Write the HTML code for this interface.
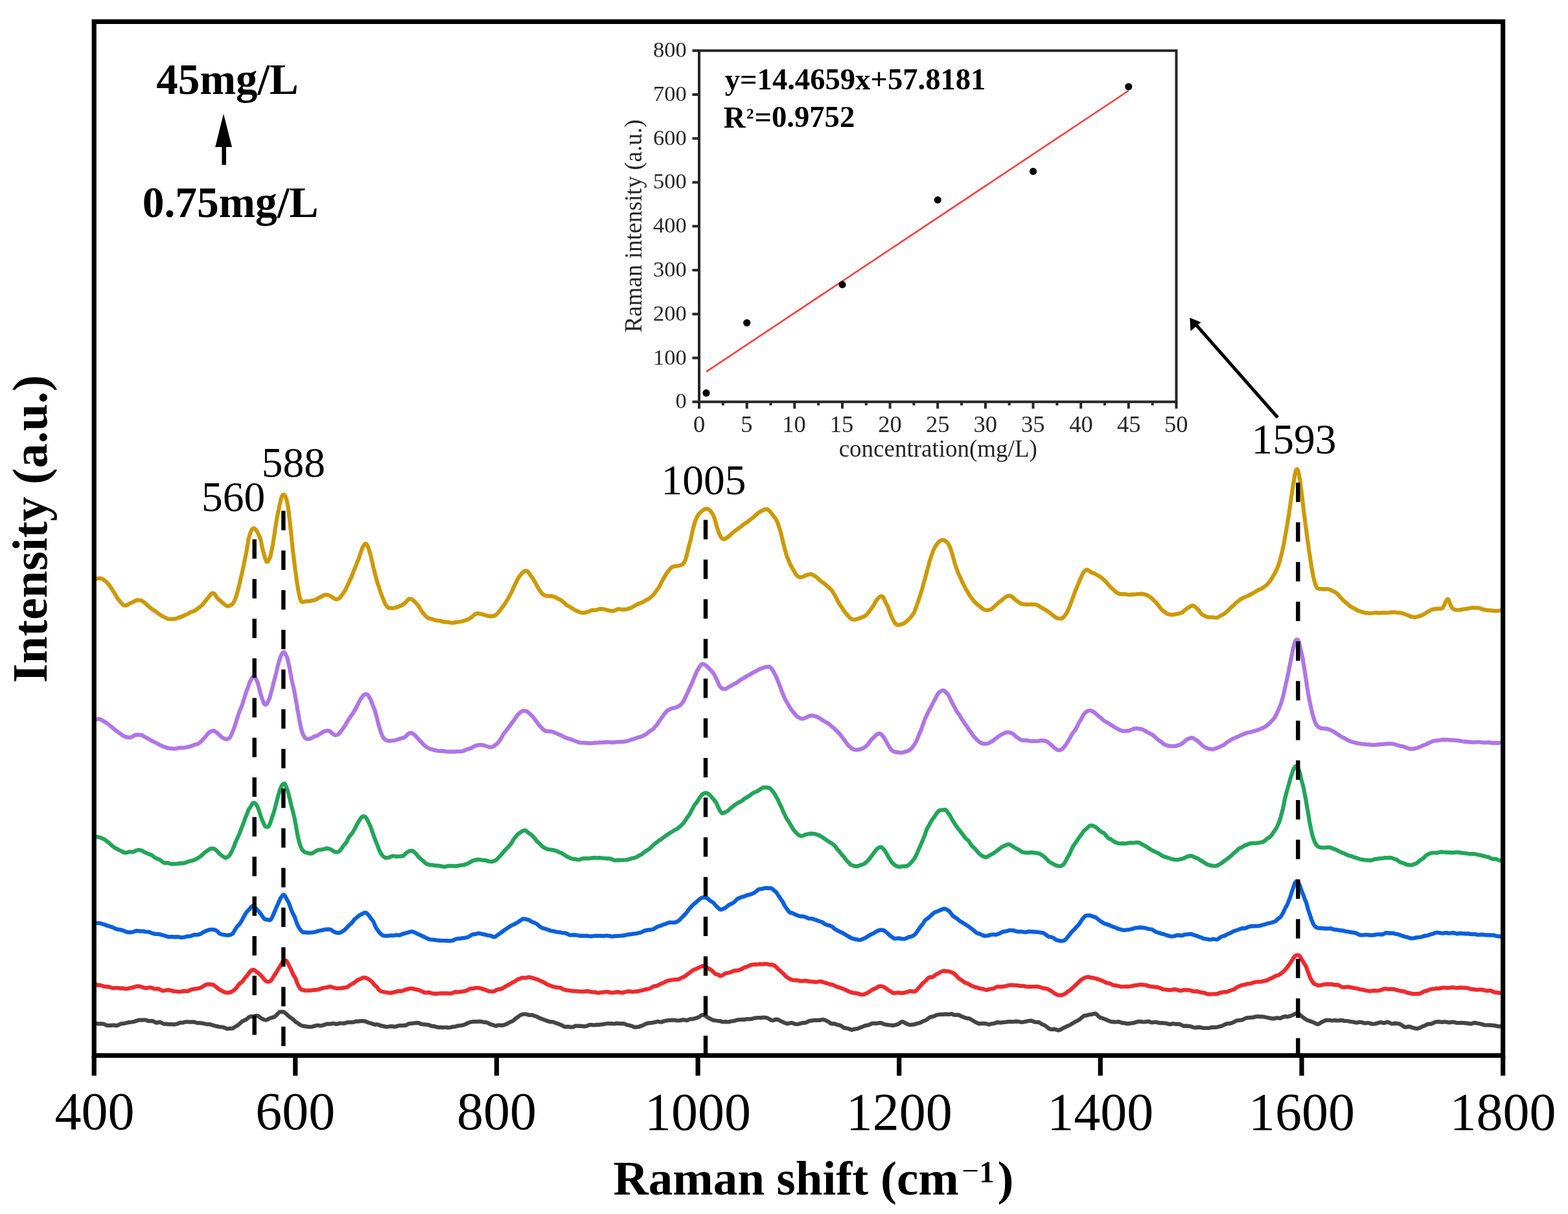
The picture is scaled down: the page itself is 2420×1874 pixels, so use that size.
<!DOCTYPE html>
<html><head><meta charset="utf-8"><title>Raman spectra</title>
<style>html,body{margin:0;padding:0;background:#fff;width:2420px;height:1874px;overflow:hidden}svg{display:block}</style>
</head><body>
<svg width="2420" height="1874" viewBox="0 0 2420 1874" font-family='"Liberation Serif", serif'>
<rect width="2420" height="1874" fill="#fff"/>
<defs><clipPath id="pc"><rect x="145.2" y="33.4" width="2174.4" height="1595.8999999999999"/></clipPath></defs>
<g clip-path="url(#pc)" fill="none" stroke-width="6.2" stroke-linejoin="round" stroke-linecap="round">
<path d="M146.9,894.0L149.2,893.2L152.5,892.7L156.0,893.1L158.0,893.7L160.1,895.0L162.3,896.7L164.7,898.8L167.5,901.8L168.9,903.6L170.5,905.9L172.2,908.7L174.0,911.5L175.9,914.3L177.7,917.4L179.5,920.5L181.3,923.4L182.9,925.6L184.5,927.5L185.8,929.2L189.1,932.9L191.4,934.5L195.0,934.6L197.3,933.4L200.0,931.6L203.0,930.4L206.1,929.0L209.3,927.1L212.5,926.3L215.5,926.5L218.0,927.1L220.5,928.4L223.0,930.2L225.4,932.5L228.0,934.9L230.5,936.9L233.2,939.1L236.0,941.3L238.3,942.6L240.7,944.2L243.2,946.2L245.7,948.2L248.2,949.8L250.8,951.2L253.4,952.5L256.0,953.9L258.7,955.2L261.3,955.7L264.0,955.7L266.8,955.7L269.6,955.4L272.5,954.7L275.3,953.6L278.2,952.5L281.0,951.5L283.7,950.5L286.3,949.2L288.8,948.0L291.7,946.5L294.5,944.9L297.1,943.9L299.7,943.1L302.1,941.7L304.6,939.8L307.0,938.0L309.4,936.2L311.6,934.3L313.8,932.0L316.0,929.1L318.2,926.1L320.3,923.7L322.4,921.3L324.3,918.6L326.1,916.4L327.7,915.7L330.5,916.1L332.4,918.6L334.3,921.7L336.9,924.7L339.2,926.8L341.9,929.0L344.8,931.5L347.6,933.9L350.4,935.5L352.9,935.6L355.1,934.6L357.0,933.5L358.8,932.5L360.6,930.1L362.4,926.1L364.4,920.9L365.0,918.9L365.7,916.5L366.4,914.2L367.1,911.5L367.8,908.6L368.6,905.9L369.3,902.9L370.0,899.8L370.8,896.6L371.5,893.1L372.3,889.7L373.0,886.9L373.7,884.0L374.4,880.6L375.1,877.1L375.8,874.2L376.4,871.4L377.0,868.3L377.6,865.3L378.1,862.8L378.9,859.0L379.6,855.6L380.3,852.2L380.9,848.5L381.5,844.8L382.0,841.6L382.5,839.0L383.0,836.0L383.4,832.9L383.9,830.5L384.5,828.9L385.0,827.1L386.7,821.8L388.3,818.3L389.9,816.1L391.8,815.4L393.3,816.1L394.9,817.8L396.6,820.2L398.2,823.3L399.7,826.5L401.0,829.3L401.9,831.6L402.6,834.3L403.2,837.3L403.7,840.1L404.2,842.7L405.0,846.2L405.8,849.6L406.7,852.8L407.7,856.5L408.7,860.2L409.7,863.2L410.7,865.7L411.5,867.1L413.9,866.6L416.0,861.8L416.7,860.6L417.4,858.6L418.1,855.4L418.8,852.1L419.6,848.4L420.5,843.6L420.9,841.9L421.3,839.8L421.7,837.0L422.1,834.0L422.6,831.1L423.0,828.4L423.5,825.1L424.0,821.4L424.5,817.9L425.0,814.7L425.5,811.7L426.0,808.7L426.5,805.6L427.0,802.8L427.5,799.8L428.0,796.8L428.7,793.1L429.5,789.5L430.3,785.9L431.0,782.2L431.8,778.4L432.6,774.8L433.4,771.4L434.2,768.5L435.0,766.5L435.7,764.9L436.5,764.1L437.7,763.6L438.8,763.8L439.9,765.2L441.0,767.6L442.1,771.1L443.3,776.0L444.5,782.4L444.8,784.6L445.1,786.5L445.5,788.8L445.8,792.0L446.1,794.8L446.4,797.4L446.8,800.3L447.1,803.2L447.4,805.9L447.8,808.9L448.1,812.2L448.5,815.7L448.8,818.8L449.1,821.9L449.5,825.2L449.8,828.3L450.2,831.8L450.5,835.6L450.9,839.0L451.2,842.5L451.5,845.7L451.9,848.6L452.2,851.4L452.6,854.4L452.9,857.5L453.3,860.5L453.6,863.3L454.1,867.3L454.5,870.9L455.0,874.1L455.4,877.7L455.9,881.2L456.4,883.9L456.8,887.3L457.3,891.2L457.7,894.9L458.2,897.9L458.7,900.7L459.1,903.6L459.6,906.5L460.0,909.4L460.5,912.2L461.0,914.7L461.4,916.7L461.9,918.8L462.3,921.1L462.8,923.1L465.0,928.3L467.3,929.5L469.5,928.8L472.0,928.2L474.5,928.2L477.0,928.0L479.9,927.6L483.4,926.7L485.6,926.3L488.0,925.3L490.7,923.6L493.4,922.3L496.2,920.8L499.0,919.1L501.6,918.1L504.0,918.1L507.0,918.7L509.8,920.0L512.4,921.6L515.0,923.3L517.5,924.8L520.0,925.2L522.1,924.4L524.0,923.0L526.0,921.1L527.8,918.4L529.8,915.5L531.7,912.8L533.8,909.2L535.0,906.4L536.2,903.8L537.4,901.5L538.7,898.9L539.9,896.0L541.2,893.1L542.5,890.5L543.8,887.2L545.1,883.7L546.3,880.5L547.5,877.6L548.7,874.9L549.8,872.0L551.1,868.3L552.4,865.2L553.6,862.4L554.8,858.8L556.0,855.1L557.2,851.8L558.3,848.5L559.4,845.7L560.4,843.6L561.4,841.9L562.4,840.3L564.2,839.2L565.8,840.1L567.2,842.3L568.7,846.1L570.4,851.3L571.0,853.4L571.6,856.0L572.3,858.5L573.0,861.1L573.6,863.9L574.3,867.0L575.0,870.2L575.7,873.5L576.5,877.0L577.2,879.7L577.9,882.2L578.7,885.5L579.5,888.8L580.2,891.5L581.0,894.3L581.8,897.5L582.8,900.7L583.8,903.3L584.9,906.3L586.0,909.9L587.1,913.2L588.3,916.5L589.4,919.6L590.5,922.4L591.6,925.0L592.7,927.7L593.7,930.5L594.7,932.7L595.6,933.9L598.7,937.8L601.3,938.7L604.7,938.7L607.0,938.8L609.7,938.3L612.6,937.2L615.5,936.2L618.3,935.1L620.8,933.9L623.4,932.2L625.8,930.1L628.1,927.5L630.2,925.4L632.4,924.4L635.0,924.8L637.4,926.3L639.9,928.7L642.9,931.8L644.4,933.4L645.9,935.5L647.5,938.0L649.1,940.8L650.9,943.7L652.7,946.1L654.6,948.3L656.7,950.6L658.9,952.8L661.3,954.3L664.0,955.0L666.8,955.6L669.7,956.6L672.7,957.6L675.7,957.9L678.6,958.1L681.5,958.9L684.1,959.8L687.3,960.2L690.4,960.3L693.4,960.7L696.3,961.4L699.1,961.5L701.9,960.9L704.7,960.4L707.9,960.0L711.1,959.5L714.3,958.8L717.3,957.9L720.2,957.0L723.0,955.9L725.5,954.4L727.7,952.9L729.8,951.0L731.9,949.0L734.2,947.7L736.8,946.9L739.5,947.1L742.5,947.8L745.6,948.5L748.9,949.6L752.0,950.4L754.9,951.1L757.4,951.4L760.8,950.9L763.4,950.2L765.8,948.9L768.8,945.8L770.4,944.0L772.0,941.9L773.8,939.4L775.6,936.9L777.4,934.7L779.3,932.0L781.1,928.8L783.0,925.8L784.8,922.8L786.2,920.1L787.5,917.6L789.0,915.3L790.4,912.2L791.8,908.8L793.2,905.7L794.6,902.8L796.0,900.2L797.3,897.5L798.6,894.7L799.8,892.3L800.9,890.6L803.4,887.4L805.5,884.9L807.5,883.0L809.4,881.7L811.2,881.1L813.7,881.6L815.9,884.0L819.2,888.6L820.5,890.2L821.9,892.3L823.5,895.1L825.2,897.9L827.0,900.8L828.8,904.2L830.6,907.6L832.4,910.4L834.2,913.0L835.9,915.3L837.5,917.0L840.9,919.3L844.3,920.1L847.5,920.1L850.6,920.1L853.5,920.6L856.7,921.7L859.5,923.2L862.2,924.7L865.0,926.1L867.1,927.5L869.1,929.0L871.2,931.0L873.5,933.3L876.4,935.2L878.6,936.2L881.0,937.5L883.6,939.4L886.3,941.2L889.0,942.5L891.8,943.7L894.5,944.9L897.0,945.6L900.2,946.0L903.4,945.6L906.6,944.8L909.6,943.7L912.5,942.4L915.3,941.9L918.3,941.8L921.0,941.5L923.6,940.6L926.2,940.0L929.0,940.1L932.2,940.4L935.6,941.3L939.0,942.2L942.3,942.8L945.1,943.4L948.6,942.6L951.3,941.1L954.3,940.3L956.8,940.3L959.3,940.7L962.2,940.9L965.7,940.6L967.9,940.2L970.4,939.4L973.1,938.5L975.9,937.2L978.7,935.5L981.4,934.1L984.0,932.7L986.3,931.6L989.5,930.5L992.3,929.5L994.8,927.8L997.4,926.3L1000.0,925.1L1001.9,923.8L1003.9,922.1L1005.8,920.5L1007.7,919.0L1009.7,916.8L1011.7,913.8L1013.8,911.0L1015.2,909.1L1016.7,907.0L1018.2,904.4L1019.7,901.3L1021.3,898.1L1022.9,895.2L1024.4,892.6L1025.9,890.1L1027.3,887.6L1028.6,885.4L1029.8,883.9L1032.5,880.4L1034.7,877.6L1036.7,875.6L1039.0,874.6L1041.8,874.1L1044.8,873.7L1047.8,873.2L1050.4,872.4L1053.0,871.3L1055.2,869.4L1057.3,865.5L1058.0,863.4L1058.8,860.9L1059.5,858.4L1060.2,855.9L1060.9,852.7L1061.7,849.5L1062.4,846.6L1063.2,843.6L1064.1,840.1L1064.7,837.6L1065.4,835.3L1066.1,832.5L1066.8,829.4L1067.5,826.1L1068.2,822.7L1068.9,819.4L1069.7,816.2L1070.4,813.2L1071.1,810.6L1071.9,807.8L1072.6,805.4L1073.3,803.7L1074.8,800.1L1076.4,796.9L1077.9,794.4L1079.4,792.6L1081.0,790.9L1082.5,789.7L1085.5,787.3L1088.6,785.5L1091.6,785.4L1094.0,786.6L1096.4,788.7L1098.7,791.8L1100.8,795.2L1101.8,797.4L1102.7,800.0L1103.5,802.4L1104.3,805.0L1105.1,808.3L1106.0,811.6L1107.0,814.9L1108.2,818.6L1109.4,822.2L1110.7,825.4L1112.2,828.3L1113.9,830.7L1116.0,832.1L1118.1,832.1L1120.4,831.0L1123.0,829.4L1125.6,827.2L1128.5,824.4L1131.4,821.7L1134.3,819.5L1136.4,818.1L1138.6,816.6L1140.8,815.1L1143.1,813.3L1145.5,811.4L1147.8,809.4L1150.2,807.7L1152.5,806.4L1154.9,804.6L1157.2,802.7L1159.8,800.9L1162.5,798.7L1165.2,796.1L1167.9,793.8L1170.5,791.8L1173.1,790.0L1175.6,788.5L1178.0,787.3L1180.1,786.4L1183.0,786.0L1185.5,787.0L1187.9,789.0L1190.0,791.5L1192.0,794.1L1193.9,796.6L1195.4,798.9L1196.8,800.4L1198.0,802.0L1199.2,804.7L1200.4,807.8L1201.6,811.2L1203.0,815.5L1203.7,817.9L1204.4,819.8L1205.1,822.0L1205.8,825.1L1206.6,828.6L1207.3,832.0L1208.1,835.0L1208.8,837.8L1209.6,840.9L1210.4,844.3L1211.2,847.5L1212.0,850.1L1212.8,853.0L1213.7,856.3L1214.5,858.7L1215.8,861.7L1217.2,865.2L1218.6,868.8L1220.0,872.0L1221.5,874.8L1222.9,877.3L1224.4,879.6L1225.7,881.9L1227.0,884.3L1228.2,886.3L1231.4,889.9L1234.2,891.0L1237.4,891.0L1239.9,889.9L1242.6,888.5L1245.4,887.5L1248.3,886.7L1251.1,886.3L1253.3,886.6L1255.5,888.0L1257.7,889.4L1259.9,890.7L1262.2,892.8L1264.8,895.2L1266.9,897.0L1269.2,898.8L1271.6,900.4L1274.0,902.3L1276.4,904.3L1278.8,906.5L1281.1,908.6L1283.2,910.6L1284.9,913.0L1286.5,915.8L1288.0,918.2L1289.5,920.7L1290.9,923.7L1292.3,926.5L1293.8,929.4L1295.3,932.0L1296.9,934.2L1298.6,936.8L1300.3,939.4L1302.1,942.2L1303.9,944.7L1305.7,946.7L1307.5,949.0L1309.3,951.2L1311.1,953.1L1312.9,954.7L1316.2,956.3L1319.5,956.5L1322.8,955.6L1326.0,954.5L1328.9,953.4L1331.4,952.4L1333.5,951.6L1335.5,950.5L1337.7,948.4L1340.4,945.6L1342.0,943.4L1343.8,940.7L1345.7,938.2L1347.7,935.4L1349.7,931.9L1351.7,928.3L1353.7,925.3L1355.5,923.1L1357.2,921.6L1358.7,920.7L1361.0,920.3L1362.7,921.4L1364.2,924.0L1365.8,927.9L1367.9,932.1L1369.0,933.9L1370.1,936.2L1371.3,938.9L1372.5,942.4L1373.7,946.2L1375.0,949.6L1376.4,952.8L1377.8,955.6L1379.3,958.4L1380.8,961.1L1382.3,963.0L1383.9,964.0L1386.2,964.7L1388.7,964.5L1391.4,963.7L1394.1,962.7L1396.9,961.1L1399.6,958.7L1402.2,956.2L1404.6,953.9L1406.8,951.5L1408.3,949.3L1409.6,947.3L1410.8,945.4L1412.0,942.6L1413.0,939.7L1414.1,936.9L1415.1,934.0L1416.1,931.2L1417.1,928.3L1418.2,925.2L1419.3,921.5L1420.5,918.0L1421.3,915.8L1422.0,913.2L1422.8,910.5L1423.7,907.8L1424.5,904.8L1425.3,901.6L1426.2,898.2L1427.1,895.1L1427.9,892.3L1428.8,888.8L1429.6,885.1L1430.5,881.9L1431.3,879.0L1432.1,876.2L1432.9,873.6L1433.7,870.4L1434.4,867.4L1435.2,865.1L1435.9,862.8L1436.5,860.7L1438.0,856.6L1439.3,853.0L1440.4,849.7L1441.5,847.3L1442.5,845.4L1443.5,843.6L1444.5,842.1L1445.7,840.4L1448.2,837.1L1450.8,835.0L1453.4,833.7L1456.0,833.5L1458.0,834.4L1460.1,835.7L1462.1,837.5L1464.2,840.6L1466.3,844.9L1467.1,847.2L1467.9,849.9L1468.7,852.4L1469.5,854.7L1470.3,857.4L1471.1,860.5L1471.9,863.2L1472.8,866.3L1473.6,869.7L1474.6,872.5L1475.5,875.4L1476.6,878.4L1477.7,881.3L1478.8,884.0L1480.0,886.9L1481.2,889.6L1482.5,892.3L1483.9,895.3L1485.2,898.4L1486.6,901.4L1488.0,904.1L1489.4,906.8L1490.8,909.6L1492.2,911.8L1493.5,913.6L1494.8,916.1L1496.1,918.4L1498.2,921.6L1500.3,924.3L1502.3,926.9L1504.3,929.3L1506.2,931.2L1508.2,932.9L1510.1,934.5L1512.1,935.9L1514.6,938.1L1517.0,940.1L1519.4,941.3L1521.9,941.7L1524.8,941.8L1528.1,941.2L1530.2,940.1L1532.5,938.3L1535.0,936.0L1537.5,933.5L1540.2,931.2L1542.9,928.9L1545.6,926.8L1548.3,924.5L1550.9,922.4L1553.3,920.9L1555.6,919.9L1558.5,919.6L1561.2,920.6L1563.7,922.6L1566.1,924.9L1568.5,927.0L1571.0,928.7L1573.5,930.4L1576.2,932.0L1579.1,932.8L1582.1,933.0L1585.2,933.2L1588.3,933.0L1591.5,932.9L1594.5,933.1L1597.3,933.0L1600.0,933.5L1603.2,935.3L1606.0,937.1L1608.6,938.6L1611.2,940.1L1613.8,941.6L1616.6,943.3L1619.2,945.2L1621.9,947.4L1624.7,949.4L1627.4,951.6L1630.1,953.5L1632.6,954.5L1634.9,954.8L1637.6,954.8L1639.9,953.9L1642.0,952.1L1644.1,949.5L1646.4,945.9L1647.5,943.9L1648.6,941.5L1649.7,938.9L1650.8,936.2L1651.9,933.1L1653.1,929.8L1654.3,926.7L1655.4,923.6L1656.6,920.5L1657.8,917.3L1658.9,914.1L1660.1,910.9L1661.4,907.9L1662.6,905.0L1663.9,901.8L1665.2,898.7L1666.5,895.8L1667.8,892.8L1669.1,889.9L1670.3,887.0L1671.5,884.5L1672.7,882.8L1673.9,881.5L1676.8,879.6L1679.5,880.1L1682.2,882.2L1685.3,884.0L1687.6,884.6L1690.1,885.8L1692.7,887.4L1695.5,888.8L1698.3,890.5L1701.3,892.9L1703.2,894.6L1705.2,896.4L1707.2,898.5L1709.3,900.9L1711.5,903.5L1713.6,905.9L1715.7,907.8L1717.8,909.6L1719.9,911.6L1721.9,913.6L1725.0,915.6L1728.0,916.7L1731.0,917.1L1733.9,917.2L1737.0,917.2L1740.3,917.8L1743.0,918.1L1745.9,917.8L1749.0,917.6L1752.0,917.5L1755.1,917.1L1758.0,916.9L1760.7,916.6L1763.2,916.9L1766.5,917.6L1769.1,918.1L1771.5,919.3L1774.0,920.9L1776.9,923.1L1778.8,924.9L1780.7,926.8L1782.8,928.7L1785.0,931.0L1787.1,933.7L1789.3,936.7L1791.4,939.4L1793.3,941.5L1795.2,942.9L1798.2,945.4L1801.0,947.3L1803.6,948.1L1806.2,948.6L1808.9,948.8L1811.6,948.6L1814.2,948.1L1816.9,947.7L1819.7,947.0L1822.7,946.2L1825.1,945.0L1827.7,942.6L1830.3,940.3L1833.1,938.6L1835.8,936.9L1838.5,935.3L1841.0,934.9L1843.4,935.9L1845.7,937.7L1847.9,939.8L1850.1,942.2L1852.3,945.2L1854.6,948.2L1857.0,949.7L1859.9,951.0L1863.0,952.3L1866.1,952.9L1869.3,952.9L1872.4,953.0L1875.3,953.5L1878.1,953.5L1880.7,952.4L1883.2,950.7L1885.8,949.4L1888.5,948.0L1891.4,945.9L1893.5,944.2L1895.6,942.2L1897.8,939.9L1900.0,937.7L1902.3,935.8L1904.6,933.7L1907.0,931.2L1909.5,929.1L1912.0,927.2L1914.3,925.4L1916.8,923.9L1919.3,922.5L1921.9,921.4L1924.5,920.4L1927.2,919.2L1929.8,917.7L1932.3,916.3L1934.8,915.2L1937.1,913.9L1939.9,911.8L1942.7,910.4L1945.4,909.5L1948.0,908.1L1950.5,906.2L1953.0,904.5L1955.4,902.6L1957.7,900.2L1959.3,898.0L1961.0,895.5L1962.5,893.2L1964.1,890.7L1965.6,888.2L1967.0,885.7L1968.5,883.1L1969.8,880.3L1971.2,877.3L1972.5,873.9L1973.8,870.3L1974.6,868.0L1975.3,865.2L1976.0,862.2L1976.7,859.7L1977.4,857.4L1978.1,854.8L1978.7,852.0L1979.4,848.9L1980.0,846.0L1980.7,843.2L1981.3,840.0L1981.9,836.7L1982.5,833.4L1983.1,830.3L1983.7,827.1L1984.3,823.3L1984.9,819.8L1985.5,816.6L1986.0,814.0L1986.5,811.3L1986.9,808.7L1987.4,805.6L1987.9,801.9L1988.4,798.9L1988.8,796.5L1989.3,793.7L1989.8,790.3L1990.3,786.8L1990.7,783.6L1991.2,780.2L1991.6,776.8L1992.1,774.1L1992.5,771.1L1992.9,767.5L1993.4,764.6L1993.8,762.2L1994.2,759.6L1994.5,756.9L1994.9,754.2L1995.3,751.6L1995.6,749.4L1996.4,744.9L1997.1,741.0L1997.7,737.0L1998.3,733.5L1998.8,731.0L1999.3,729.2L1999.8,727.3L2000.3,725.7L2000.8,724.8L2001.8,724.1L2002.7,724.9L2003.6,727.4L2004.6,731.8L2005.8,738.4L2006.1,740.2L2006.4,741.7L2006.8,743.7L2007.1,746.7L2007.4,749.7L2007.8,752.4L2008.2,755.0L2008.5,758.0L2008.9,761.5L2009.3,765.0L2009.7,768.0L2010.1,771.2L2010.4,774.5L2010.9,777.8L2011.3,781.0L2011.7,784.9L2012.1,788.9L2012.5,792.1L2012.9,795.0L2013.4,798.4L2013.8,801.6L2014.2,804.6L2014.6,807.7L2015.0,810.8L2015.4,814.2L2015.9,817.3L2016.3,819.9L2016.7,823.1L2017.2,826.7L2017.6,830.4L2018.1,834.2L2018.6,837.3L2019.0,840.1L2019.5,843.4L2019.9,846.9L2020.4,850.1L2020.8,853.5L2021.3,856.5L2021.7,859.2L2022.1,862.3L2022.6,865.1L2023.0,867.4L2023.4,869.8L2023.7,872.3L2024.1,874.6L2024.9,879.1L2025.7,883.2L2026.4,887.4L2027.1,890.8L2027.8,893.5L2028.4,896.2L2029.0,898.4L2029.7,900.4L2030.3,902.6L2031.0,904.3L2033.0,907.9L2035.1,908.8L2037.9,909.0L2040.2,909.2L2043.0,909.3L2046.0,909.4L2048.9,909.3L2051.6,909.7L2054.5,911.0L2057.2,912.5L2059.9,913.8L2063.0,915.6L2064.9,917.4L2066.7,919.8L2068.7,922.0L2070.7,924.2L2073.0,926.6L2075.5,928.8L2078.4,931.0L2080.6,932.9L2082.8,935.0L2085.1,936.7L2087.5,937.9L2090.0,939.1L2092.8,940.9L2095.7,942.7L2098.9,943.6L2102.3,944.7L2106.1,945.8L2108.5,946.2L2111.2,946.5L2114.0,946.7L2117.0,946.5L2120.1,946.0L2123.3,945.8L2126.5,946.1L2129.8,946.1L2133.2,945.9L2136.5,945.9L2139.8,945.8L2143.0,945.7L2146.1,945.5L2149.0,945.1L2151.8,945.0L2154.5,945.4L2156.9,945.6L2161.0,945.8L2164.6,946.6L2167.8,947.8L2170.8,948.9L2173.5,950.0L2176.2,951.2L2178.8,952.0L2181.6,952.6L2184.5,952.8L2187.3,952.1L2190.3,951.2L2193.2,950.2L2196.2,949.0L2199.2,947.3L2202.1,945.3L2204.9,943.6L2207.5,942.3L2210.0,941.1L2212.2,940.5L2216.0,939.8L2219.0,939.6L2221.6,939.7L2223.9,939.6L2226.1,938.8L2228.1,936.1L2229.7,932.3L2231.2,928.8L2232.7,926.0L2234.4,924.9L2235.7,925.9L2236.8,928.4L2237.9,931.8L2239.4,935.7L2241.5,939.0L2244.5,940.9L2246.7,941.4L2249.2,941.5L2252.1,941.5L2255.2,941.1L2258.5,940.4L2261.8,940.0L2265.1,939.5L2268.4,938.8L2271.5,938.2L2274.3,938.2L2276.8,938.3L2280.6,938.3L2283.8,938.9L2286.5,940.0L2289.2,940.9L2292.0,941.4L2295.3,941.9L2298.3,942.2L2301.6,942.4L2305.2,942.8L2308.8,943.0L2312.3,942.8L2315.4,942.4L2318.1,942.4L2320.0,942.5" stroke="#CC9A06"/>
<path d="M147.8,1110.8L149.4,1110.5L151.5,1109.9L154.7,1110.3L159.5,1113.0L161.3,1114.4L163.4,1115.4L165.7,1116.8L168.2,1118.8L170.9,1121.2L173.6,1123.4L176.4,1125.7L179.3,1128.0L182.1,1130.1L184.9,1132.0L187.6,1133.9L190.1,1135.8L192.5,1136.9L194.6,1137.5L198.2,1138.4L201.1,1138.4L203.5,1137.7L206.0,1136.0L208.6,1134.5L211.9,1134.1L216.1,1134.4L218.3,1134.6L220.6,1135.7L223.1,1137.4L225.7,1138.8L228.5,1140.1L231.3,1141.8L234.2,1143.5L237.2,1144.9L240.2,1146.4L243.3,1148.1L246.3,1149.7L249.4,1151.2L252.4,1152.5L255.3,1153.5L258.2,1154.5L261.0,1155.1L264.2,1155.3L267.4,1155.6L270.7,1155.8L274.0,1155.1L277.3,1154.3L280.6,1154.3L283.8,1154.3L287.0,1153.7L290.2,1153.0L293.2,1152.3L296.1,1151.5L298.9,1150.3L301.5,1149.4L304.0,1148.9L307.1,1147.3L309.9,1144.9L312.4,1142.3L314.7,1140.0L316.8,1137.7L318.8,1135.0L320.9,1132.5L322.9,1130.5L325.1,1129.2L327.4,1128.3L330.2,1128.2L333.0,1129.7L336.0,1132.1L338.9,1134.9L341.9,1137.6L344.8,1139.5L347.6,1140.7L350.2,1141.1L352.7,1140.3L354.1,1139.1L355.4,1137.3L356.7,1134.9L357.8,1132.4L359.0,1129.6L360.1,1126.8L361.2,1124.0L362.3,1121.2L363.3,1118.0L364.4,1114.4L365.5,1110.7L366.7,1107.0L367.8,1103.5L369.0,1100.0L370.3,1096.7L371.3,1094.3L372.4,1091.6L373.5,1088.6L374.6,1085.5L375.7,1081.6L376.9,1077.9L378.0,1074.4L379.2,1070.6L380.3,1067.1L381.5,1064.0L382.7,1060.9L383.9,1057.7L385.0,1054.5L386.2,1051.7L387.3,1049.4L388.5,1047.3L389.6,1045.7L390.7,1044.8L391.8,1044.3L393.1,1044.8L394.3,1046.6L395.5,1048.7L396.7,1051.3L397.8,1054.5L399.0,1058.3L400.2,1062.8L401.3,1067.6L402.5,1072.0L403.7,1075.8L404.8,1079.3L406.1,1082.7L407.3,1085.6L408.6,1087.4L409.9,1087.9L411.3,1087.1L412.1,1085.9L413.0,1084.4L413.8,1082.6L414.7,1080.8L415.6,1078.9L416.5,1076.2L417.4,1072.5L418.4,1068.9L419.3,1065.9L420.3,1062.4L421.3,1058.4L422.2,1054.2L423.2,1050.4L424.2,1046.6L425.2,1042.9L426.1,1039.5L427.1,1035.5L428.0,1031.1L429.0,1027.2L429.9,1023.7L430.8,1020.5L431.7,1017.7L432.6,1015.1L433.4,1012.9L434.3,1011.0L435.1,1009.1L435.9,1008.0L436.6,1007.4L437.7,1006.8L438.8,1007.0L439.8,1008.1L440.7,1009.8L441.6,1011.6L442.5,1013.5L443.4,1016.1L444.2,1019.2L445.0,1022.4L445.8,1025.9L446.6,1029.8L447.4,1033.9L448.1,1038.1L448.9,1042.3L449.7,1046.5L450.5,1050.4L451.3,1053.9L452.2,1057.4L452.8,1060.2L453.4,1063.0L454.0,1065.9L454.6,1069.0L455.2,1072.2L455.7,1075.3L456.3,1078.6L456.9,1081.9L457.5,1085.4L458.1,1088.8L458.6,1092.1L459.2,1095.4L459.8,1098.8L460.4,1101.9L461.0,1105.1L461.6,1108.8L462.2,1112.1L462.8,1115.0L463.4,1118.1L464.0,1120.9L464.6,1123.8L465.3,1126.5L465.9,1128.9L466.6,1131.2L467.2,1132.7L467.9,1134.2L470.5,1138.7L473.2,1140.6L476.1,1140.8L479.0,1140.2L481.9,1138.7L484.7,1137.2L487.4,1136.3L490.0,1135.3L492.6,1133.6L495.2,1132.0L497.7,1130.4L500.2,1129.1L502.6,1128.4L505.0,1127.8L507.6,1128.0L510.1,1129.6L512.6,1131.9L515.0,1133.8L517.7,1134.8L520.6,1134.2L522.2,1133.3L523.8,1131.8L525.5,1129.7L527.3,1127.3L529.1,1124.9L530.9,1122.4L532.8,1119.4L534.6,1116.2L536.5,1113.1L538.4,1110.2L540.2,1107.3L542.0,1104.7L543.7,1102.5L545.4,1099.9L547.1,1096.9L548.9,1093.8L550.6,1090.6L552.4,1087.3L554.1,1083.9L555.8,1080.4L557.5,1077.7L559.1,1075.6L560.6,1073.7L562.1,1072.2L563.5,1071.5L565.6,1071.6L567.4,1072.7L569.1,1074.9L570.7,1077.5L572.3,1080.5L573.8,1084.5L575.4,1089.1L577.2,1093.2L578.1,1095.3L579.0,1098.1L579.8,1101.2L580.7,1104.5L581.5,1107.5L582.4,1111.0L583.3,1114.9L584.1,1118.2L585.1,1121.2L586.0,1124.5L587.0,1127.7L588.0,1130.7L589.1,1133.8L590.3,1136.6L591.5,1138.4L592.8,1140.1L595.4,1142.5L598.3,1143.4L601.5,1143.6L604.8,1143.5L608.1,1143.0L611.4,1142.2L614.6,1141.3L617.5,1140.3L620.1,1139.6L623.3,1138.7L625.8,1137.2L628.1,1134.8L630.3,1132.5L632.7,1131.4L635.6,1131.7L637.4,1132.7L639.4,1134.1L641.4,1136.0L643.5,1138.3L645.7,1140.8L647.9,1143.2L650.2,1145.4L652.4,1147.9L654.6,1150.3L656.8,1152.0L659.0,1153.6L661.9,1155.4L664.7,1156.4L667.5,1157.1L670.3,1157.9L673.1,1158.5L676.1,1159.0L679.2,1159.3L682.5,1159.1L685.3,1159.4L688.3,1160.0L691.5,1160.3L694.7,1160.4L698.0,1160.4L701.3,1160.3L704.5,1160.2L707.7,1160.0L710.8,1159.9L713.7,1159.6L716.8,1158.5L719.8,1157.2L722.6,1156.2L725.4,1155.4L728.2,1154.3L730.9,1152.5L733.6,1151.2L736.3,1150.6L739.0,1150.0L742.0,1149.8L745.1,1150.3L748.0,1150.9L751.0,1151.9L753.9,1152.9L756.8,1153.4L759.7,1153.1L762.5,1151.7L764.3,1150.0L766.1,1148.7L767.9,1147.3L769.6,1145.2L771.4,1142.7L773.1,1140.1L774.8,1137.3L776.5,1134.1L778.3,1131.4L780.1,1129.3L782.0,1126.9L783.9,1124.2L785.9,1121.8L787.9,1119.1L789.9,1116.2L791.9,1113.5L794.0,1110.7L796.1,1107.4L798.2,1104.5L800.4,1102.2L802.6,1100.1L804.8,1098.3L807.0,1097.3L809.3,1097.4L811.3,1097.7L813.4,1098.2L815.6,1099.9L817.8,1102.1L820.0,1104.0L822.3,1106.4L824.6,1109.4L826.8,1112.3L829.0,1115.2L831.1,1118.4L833.2,1120.7L835.1,1122.6L836.9,1124.7L838.6,1126.5L842.2,1128.5L844.7,1128.9L846.9,1128.9L849.8,1129.0L854.2,1130.1L856.3,1131.0L858.5,1132.0L861.0,1133.1L863.6,1134.1L866.4,1135.4L869.3,1137.0L872.2,1138.5L875.3,1139.5L878.3,1140.6L881.4,1141.5L884.4,1142.5L887.4,1143.8L890.4,1144.9L893.2,1145.9L896.2,1146.5L899.2,1146.5L902.2,1146.5L905.2,1146.8L908.2,1147.2L911.2,1147.3L914.3,1147.1L917.3,1146.7L920.3,1146.6L923.3,1146.4L926.3,1146.0L929.3,1146.1L932.3,1146.1L935.3,1145.6L938.3,1145.6L941.4,1145.8L944.4,1146.2L947.5,1146.1L950.5,1145.6L953.6,1145.4L956.6,1145.2L959.6,1145.2L962.6,1145.0L965.5,1144.4L968.4,1143.7L971.3,1142.9L974.2,1141.9L977.0,1141.1L979.9,1140.2L982.8,1139.0L985.6,1138.1L988.4,1137.5L991.2,1136.4L993.9,1135.1L996.6,1133.6L999.2,1131.8L1001.7,1129.6L1004.1,1127.7L1006.4,1126.6L1008.8,1124.6L1011.0,1121.9L1013.2,1119.6L1015.2,1116.9L1017.2,1113.8L1019.1,1110.9L1020.9,1108.3L1022.7,1105.8L1024.5,1103.5L1026.3,1101.2L1028.0,1098.9L1029.8,1097.2L1032.9,1095.2L1035.9,1093.8L1038.8,1093.1L1041.7,1092.6L1044.4,1091.6L1047.0,1090.4L1049.3,1088.9L1051.1,1087.4L1052.6,1085.7L1054.0,1083.7L1055.3,1082.0L1056.5,1079.6L1057.8,1076.3L1059.3,1073.1L1061.0,1069.6L1062.1,1067.2L1063.3,1064.5L1064.5,1061.9L1065.8,1059.1L1067.2,1056.0L1068.5,1053.0L1069.9,1049.7L1071.3,1046.2L1072.6,1043.3L1074.0,1040.1L1075.2,1036.8L1076.4,1034.6L1077.6,1032.9L1078.6,1030.8L1081.5,1026.4L1083.8,1025.0L1085.9,1025.4L1088.4,1026.5L1090.5,1027.8L1092.7,1030.2L1095.0,1032.7L1097.4,1034.9L1099.8,1037.7L1102.0,1040.8L1103.4,1043.2L1104.7,1046.2L1105.9,1048.7L1107.2,1051.1L1108.4,1054.2L1109.8,1057.5L1111.2,1059.8L1112.8,1061.4L1114.5,1062.7L1116.8,1063.5L1119.1,1063.6L1121.6,1062.5L1124.3,1060.8L1127.3,1059.1L1130.9,1057.0L1135.1,1054.9L1137.2,1053.8L1139.6,1051.9L1142.2,1050.0L1144.9,1048.4L1147.8,1046.6L1150.8,1044.7L1153.8,1043.2L1156.9,1041.6L1160.0,1039.5L1163.0,1037.9L1165.9,1036.5L1168.8,1034.8L1171.4,1033.3L1173.9,1032.3L1176.1,1031.5L1178.1,1030.8L1182.2,1029.6L1185.2,1029.2L1187.4,1029.4L1189.2,1030.3L1191.2,1032.7L1193.7,1036.7L1194.8,1038.8L1195.9,1040.7L1197.1,1042.9L1198.3,1045.7L1199.4,1048.4L1200.6,1051.2L1201.9,1054.4L1203.1,1057.5L1204.3,1060.7L1205.6,1064.2L1206.8,1067.7L1208.1,1070.9L1209.4,1074.0L1210.6,1076.7L1211.9,1079.6L1213.2,1082.1L1214.9,1084.8L1216.7,1088.0L1218.4,1091.2L1220.2,1093.7L1222.0,1096.3L1223.8,1098.8L1225.6,1100.7L1227.5,1102.8L1229.3,1105.1L1231.1,1106.5L1232.9,1107.5L1234.7,1108.8L1237.7,1109.6L1240.5,1109.2L1243.4,1108.0L1246.2,1106.5L1249.3,1105.1L1252.5,1104.5L1256.1,1105.1L1258.4,1105.7L1260.8,1106.5L1263.3,1107.6L1265.9,1109.2L1268.6,1111.1L1271.4,1112.8L1274.1,1114.4L1276.9,1115.9L1279.6,1117.8L1282.3,1120.3L1284.9,1122.5L1287.4,1124.2L1289.5,1126.2L1291.6,1128.6L1293.7,1130.5L1295.7,1132.6L1297.8,1135.2L1299.8,1138.0L1301.8,1140.7L1303.8,1143.4L1305.7,1145.9L1307.6,1148.5L1309.4,1150.8L1311.2,1152.4L1313.0,1153.8L1314.7,1155.4L1317.9,1157.1L1320.7,1157.5L1323.4,1157.4L1326.0,1156.9L1328.6,1156.2L1331.3,1155.4L1334.2,1153.8L1336.2,1152.2L1338.2,1150.4L1340.4,1147.9L1342.5,1144.8L1344.7,1142.1L1346.9,1139.8L1349.1,1137.7L1351.2,1135.5L1353.4,1133.6L1355.5,1132.6L1357.6,1132.3L1359.4,1133.0L1361.2,1134.7L1362.9,1136.8L1364.6,1139.1L1366.3,1141.8L1368.0,1145.1L1369.7,1148.2L1371.4,1151.0L1373.2,1154.0L1375.1,1156.7L1377.0,1158.6L1379.1,1160.0L1381.7,1160.7L1384.6,1161.1L1387.5,1161.5L1390.5,1161.8L1393.6,1161.5L1396.7,1160.6L1399.8,1159.7L1402.8,1158.4L1405.7,1156.3L1408.4,1153.3L1409.8,1151.3L1411.1,1149.4L1412.4,1147.5L1413.7,1145.2L1415.0,1142.7L1416.2,1139.6L1417.5,1136.3L1418.7,1133.3L1419.9,1130.6L1421.1,1127.8L1422.3,1124.6L1423.4,1121.4L1424.6,1118.2L1425.8,1114.7L1427.0,1111.3L1428.2,1108.3L1429.4,1106.0L1430.6,1103.6L1431.8,1100.8L1433.5,1097.4L1435.1,1094.5L1436.8,1091.5L1438.5,1088.0L1440.2,1084.6L1441.8,1081.7L1443.5,1078.5L1445.2,1075.2L1446.8,1072.1L1448.5,1069.6L1450.2,1068.2L1451.9,1067.2L1453.5,1066.2L1455.2,1065.7L1456.9,1066.0L1458.5,1067.1L1460.1,1068.8L1461.8,1070.4L1463.4,1072.4L1465.0,1075.5L1466.7,1078.9L1468.3,1082.4L1470.0,1085.9L1471.6,1088.6L1473.3,1091.7L1475.1,1095.5L1476.8,1098.6L1478.6,1100.8L1480.2,1102.7L1481.9,1105.5L1483.6,1108.8L1485.4,1111.6L1487.2,1114.3L1489.0,1117.1L1490.8,1119.4L1492.6,1121.9L1494.4,1124.8L1496.2,1127.4L1498.0,1129.8L1499.7,1132.0L1501.3,1134.5L1502.9,1136.8L1504.5,1138.5L1505.9,1139.9L1509.2,1143.4L1512.0,1145.7L1514.5,1147.1L1517.0,1147.8L1519.9,1148.1L1523.5,1147.8L1525.7,1147.2L1528.0,1146.0L1530.6,1144.6L1533.3,1142.8L1536.0,1140.5L1538.9,1138.4L1541.7,1136.5L1544.5,1134.7L1547.3,1133.0L1549.9,1131.7L1552.4,1130.9L1554.7,1130.4L1557.8,1130.5L1560.7,1131.5L1563.4,1132.8L1565.9,1134.9L1568.4,1137.3L1570.9,1139.0L1573.5,1140.8L1576.2,1142.4L1579.1,1142.9L1582.2,1142.6L1585.3,1142.9L1588.5,1143.8L1591.6,1144.2L1594.6,1144.0L1597.4,1144.0L1600.0,1144.2L1603.5,1143.8L1606.4,1143.1L1609.0,1143.1L1611.8,1143.5L1615.1,1144.3L1617.5,1145.9L1620.0,1148.0L1622.7,1150.0L1625.4,1152.6L1628.3,1155.2L1631.1,1157.1L1633.9,1158.1L1636.6,1157.7L1638.4,1156.9L1640.2,1155.7L1642.0,1153.6L1643.8,1151.2L1645.6,1148.7L1647.4,1145.9L1649.1,1143.0L1650.9,1140.0L1652.7,1136.6L1654.5,1133.3L1656.3,1130.8L1658.1,1128.6L1659.7,1126.4L1661.4,1123.4L1663.0,1120.1L1664.6,1116.9L1666.2,1113.9L1667.8,1111.5L1669.4,1108.8L1671.0,1105.7L1672.6,1103.0L1674.3,1100.9L1676.0,1099.1L1677.7,1097.9L1679.5,1097.3L1681.9,1096.8L1684.3,1097.1L1686.8,1098.4L1689.3,1100.1L1691.8,1102.2L1694.4,1104.5L1697.0,1106.6L1699.6,1108.7L1702.3,1111.1L1704.9,1113.1L1707.6,1114.6L1710.3,1116.1L1713.1,1118.0L1715.9,1119.8L1718.7,1121.5L1721.5,1123.4L1724.2,1124.9L1727.0,1126.2L1729.6,1127.5L1732.2,1128.3L1735.3,1128.6L1738.4,1128.3L1741.4,1127.9L1744.4,1127.2L1747.3,1126.0L1750.1,1125.0L1752.9,1124.3L1755.6,1124.5L1758.6,1125.2L1761.4,1125.4L1764.1,1126.3L1766.7,1128.0L1769.4,1129.5L1772.2,1130.9L1775.2,1132.4L1777.4,1133.6L1779.7,1135.3L1782.1,1137.2L1784.5,1139.3L1786.9,1141.4L1789.3,1143.2L1791.7,1144.9L1794.1,1146.9L1796.4,1148.7L1798.6,1149.9L1801.6,1150.8L1804.4,1151.5L1807.1,1151.7L1809.8,1151.8L1812.5,1151.9L1815.2,1151.4L1818.1,1150.5L1820.7,1149.7L1823.3,1148.5L1826.0,1146.5L1828.7,1143.9L1831.5,1141.7L1834.2,1140.4L1836.9,1139.5L1839.6,1138.9L1842.0,1139.5L1844.5,1141.3L1847.0,1142.9L1849.4,1144.6L1851.9,1147.0L1854.3,1149.4L1856.6,1151.5L1858.9,1153.0L1861.0,1154.2L1864.2,1155.4L1866.7,1156.0L1869.2,1156.6L1872.3,1156.6L1876.6,1155.3L1878.6,1154.6L1880.9,1153.6L1883.2,1152.4L1885.7,1151.3L1888.4,1150.1L1891.1,1148.0L1893.9,1145.7L1896.8,1144.0L1899.8,1142.1L1902.7,1140.3L1905.8,1139.1L1908.8,1137.8L1911.8,1136.5L1914.5,1135.2L1917.3,1134.0L1920.3,1132.8L1923.3,1131.5L1926.4,1130.7L1929.5,1130.2L1932.7,1129.4L1935.8,1128.4L1938.9,1127.6L1941.8,1126.7L1944.7,1125.5L1947.5,1124.2L1950.1,1123.1L1952.5,1121.9L1954.7,1120.4L1957.4,1118.2L1959.8,1116.1L1961.9,1113.7L1963.8,1111.6L1965.6,1109.9L1967.2,1107.5L1968.7,1104.7L1970.1,1102.3L1971.4,1099.5L1972.8,1096.3L1974.2,1093.1L1975.2,1090.8L1976.1,1088.4L1977.0,1086.0L1977.8,1083.5L1978.6,1081.0L1979.3,1078.5L1980.1,1075.8L1980.8,1072.8L1981.5,1069.8L1982.1,1066.8L1982.8,1063.4L1983.6,1060.0L1984.3,1056.8L1985.1,1053.6L1985.9,1050.3L1986.5,1047.7L1987.1,1044.4L1987.8,1041.3L1988.4,1038.5L1989.1,1035.0L1989.8,1031.4L1990.5,1028.1L1991.1,1024.6L1991.8,1020.8L1992.5,1017.6L1993.2,1014.4L1993.9,1010.4L1994.6,1006.7L1995.2,1003.6L1995.9,1000.6L1996.6,997.8L1997.2,995.1L1997.8,992.9L1998.4,991.4L1999.0,989.9L1999.6,988.6L2001.0,987.4L2002.3,987.4L2003.5,988.3L2004.6,991.0L2005.8,995.3L2006.9,1000.3L2008.1,1005.6L2009.4,1011.3L2009.9,1013.5L2010.3,1015.4L2010.8,1017.6L2011.2,1020.4L2011.7,1023.7L2012.2,1026.5L2012.7,1029.4L2013.2,1032.5L2013.6,1035.3L2014.1,1038.1L2014.6,1041.5L2015.1,1045.2L2015.6,1048.9L2016.1,1052.3L2016.6,1055.3L2017.1,1058.6L2017.6,1061.9L2018.1,1064.8L2018.6,1067.8L2019.1,1070.7L2019.6,1073.4L2020.1,1076.0L2020.6,1078.9L2021.1,1081.4L2021.9,1085.5L2022.7,1089.5L2023.5,1092.8L2024.2,1095.8L2025.0,1099.3L2025.7,1102.6L2026.5,1105.1L2027.2,1107.2L2028.0,1109.9L2028.9,1112.8L2029.8,1115.2L2030.7,1117.2L2031.7,1118.8L2032.8,1120.2L2035.1,1122.4L2037.5,1123.6L2040.0,1124.5L2042.7,1124.6L2045.7,1124.5L2048.9,1125.3L2052.3,1126.5L2054.5,1127.4L2056.8,1128.5L2059.2,1129.9L2061.6,1131.6L2064.2,1133.3L2066.9,1135.0L2069.5,1136.8L2072.2,1138.4L2074.9,1139.6L2077.7,1141.1L2080.3,1142.7L2083.0,1143.9L2085.9,1144.9L2088.8,1145.7L2091.7,1146.4L2094.6,1147.2L2097.6,1147.8L2100.5,1148.2L2103.5,1148.5L2106.4,1148.8L2109.4,1149.1L2112.4,1149.3L2115.3,1149.6L2118.2,1149.9L2121.1,1149.8L2124.0,1149.7L2126.9,1149.4L2129.9,1149.1L2132.8,1148.9L2135.7,1148.6L2138.6,1148.3L2141.6,1148.2L2144.6,1148.2L2147.6,1148.2L2150.4,1148.4L2153.2,1149.1L2156.0,1150.1L2158.8,1151.1L2161.6,1151.7L2164.5,1152.1L2167.3,1152.9L2170.2,1154.0L2173.2,1155.2L2176.1,1155.9L2179.1,1156.1L2182.2,1155.6L2184.8,1155.1L2187.4,1154.4L2190.0,1153.5L2192.6,1152.5L2195.2,1151.3L2197.8,1150.1L2200.5,1149.1L2203.2,1147.9L2206.0,1146.6L2208.9,1145.2L2211.8,1144.0L2214.9,1143.5L2218.1,1143.2L2221.4,1142.7L2223.9,1142.3L2226.6,1141.9L2229.4,1141.8L2232.2,1141.8L2235.1,1142.0L2238.1,1142.3L2241.1,1142.4L2244.2,1142.6L2247.3,1142.9L2250.4,1143.1L2253.5,1143.6L2256.6,1144.3L2259.7,1144.8L2262.7,1144.9L2265.7,1145.1L2268.6,1145.4L2271.4,1145.7L2274.2,1145.8L2276.8,1145.7L2280.4,1145.3L2284.0,1145.5L2287.6,1146.1L2291.3,1146.4L2294.9,1146.2L2298.4,1146.2L2301.9,1146.6L2305.1,1146.8L2308.3,1146.9L2311.2,1147.0L2313.8,1146.8L2316.2,1146.4L2318.3,1146.4L2320.0,1146.6" stroke="#AF76E6"/>
<path d="M147.8,1291.7L149.5,1291.8L152.2,1292.2L157.6,1294.2L159.4,1294.9L161.5,1296.2L163.8,1297.7L166.3,1299.5L168.9,1301.8L171.6,1304.2L174.5,1306.7L177.3,1308.7L180.2,1310.2L183.0,1311.8L185.7,1313.0L188.3,1314.2L190.7,1315.8L193.9,1316.6L196.9,1315.8L199.7,1314.9L202.4,1315.1L205.2,1315.2L208.0,1314.1L211.1,1312.5L214.4,1312.0L218.1,1312.8L220.4,1313.9L222.7,1315.3L225.2,1316.4L227.8,1317.5L230.5,1318.6L233.2,1319.6L236.0,1321.4L238.8,1323.8L241.7,1325.3L244.5,1326.2L247.4,1327.6L250.2,1329.9L253.0,1331.8L255.7,1332.1L258.4,1332.1L261.0,1332.8L264.2,1333.6L267.3,1333.6L270.5,1333.5L273.7,1333.3L276.8,1332.8L279.9,1332.7L283.0,1332.6L286.0,1331.8L289.0,1330.6L291.9,1329.5L294.7,1329.0L297.4,1328.3L300.0,1327.4L302.9,1326.1L305.7,1324.4L308.4,1322.6L311.0,1320.7L313.5,1318.3L315.9,1316.0L318.2,1314.5L320.5,1312.8L322.8,1311.2L325.1,1310.2L327.4,1309.8L330.2,1310.1L332.9,1311.7L335.6,1314.3L338.3,1317.4L340.9,1319.8L343.4,1321.5L345.9,1323.2L348.4,1324.3L350.8,1323.2L352.2,1321.9L353.6,1321.1L354.9,1319.5L356.2,1316.9L357.5,1314.6L358.8,1311.9L360.0,1309.2L361.3,1306.3L362.5,1302.6L363.8,1299.3L365.1,1296.6L366.3,1294.0L367.6,1291.2L369.0,1288.2L370.3,1285.0L371.5,1281.9L372.7,1278.4L374.0,1275.2L375.2,1272.3L376.5,1268.8L377.7,1265.0L379.0,1261.4L380.3,1258.4L381.6,1255.5L382.9,1251.8L384.1,1248.9L385.4,1247.4L386.7,1245.5L388.0,1243.1L389.3,1241.0L390.5,1239.6L391.8,1239.1L393.3,1239.7L394.8,1241.3L396.4,1243.3L397.9,1246.3L399.4,1250.3L400.9,1255.0L402.4,1259.9L403.9,1264.1L405.4,1267.5L406.9,1271.1L408.5,1274.3L410.0,1276.1L411.6,1276.7L413.2,1276.3L414.2,1275.9L415.2,1274.7L416.2,1272.8L417.2,1269.9L418.3,1266.6L419.4,1263.4L420.4,1260.2L421.5,1257.1L422.6,1253.9L423.7,1250.3L424.7,1246.0L425.8,1241.7L426.9,1237.6L427.9,1233.3L429.0,1229.4L430.0,1226.0L431.0,1222.5L432.0,1219.2L433.0,1216.9L433.9,1215.0L434.8,1212.6L435.7,1211.1L436.6,1210.8L437.9,1209.9L439.1,1209.5L440.2,1210.9L441.3,1213.5L442.4,1216.4L443.4,1219.1L444.4,1221.9L445.4,1225.6L446.3,1229.5L447.3,1233.5L448.2,1237.6L449.2,1241.8L450.2,1245.9L451.2,1249.6L452.2,1253.2L452.9,1256.1L453.6,1259.1L454.3,1262.0L454.9,1264.8L455.5,1267.9L456.1,1271.5L456.7,1274.9L457.3,1278.0L457.9,1281.4L458.5,1284.8L459.2,1288.3L459.8,1291.5L460.5,1294.6L461.2,1297.6L462.0,1300.2L462.8,1303.3L463.7,1306.2L464.6,1308.0L465.6,1310.2L466.7,1312.4L467.9,1313.6L470.2,1315.3L472.8,1316.3L475.7,1317.0L478.7,1317.6L481.9,1317.2L485.2,1315.3L488.5,1313.2L491.7,1312.0L494.9,1311.7L497.8,1311.3L500.6,1310.5L503.0,1309.7L506.6,1309.8L509.7,1310.9L512.4,1312.5L515.0,1314.1L517.4,1315.1L519.9,1315.4L522.5,1314.8L524.3,1313.3L526.0,1311.4L527.8,1309.1L529.5,1306.1L531.3,1303.9L533.0,1302.3L534.8,1299.9L536.5,1296.4L538.3,1292.7L540.2,1290.2L542.0,1288.1L543.7,1285.8L545.4,1283.2L547.1,1280.3L548.9,1276.9L550.6,1273.3L552.4,1270.0L554.2,1267.1L556.0,1264.3L557.8,1261.8L559.7,1260.4L561.6,1260.2L563.5,1261.0L564.6,1261.9L565.8,1263.5L567.0,1265.7L568.2,1268.2L569.4,1270.6L570.6,1273.2L571.9,1276.2L573.2,1279.4L574.4,1283.3L575.7,1287.1L577.0,1290.5L578.2,1294.0L579.5,1297.4L580.7,1300.4L582.0,1303.6L583.2,1306.7L584.4,1309.8L585.5,1312.8L586.7,1315.0L587.8,1316.9L588.9,1319.0L592.1,1322.7L595.1,1324.1L598.1,1324.1L600.9,1323.4L603.6,1322.2L606.1,1321.3L608.4,1321.5L611.8,1322.1L614.4,1322.1L617.0,1322.0L620.0,1321.6L622.3,1321.1L624.6,1319.0L627.1,1316.6L629.7,1314.9L632.5,1313.6L635.6,1313.2L637.6,1313.8L639.8,1315.6L642.0,1317.9L644.4,1320.8L646.8,1323.4L649.3,1325.8L651.7,1327.9L654.2,1330.1L656.6,1332.3L659.0,1333.8L661.9,1334.7L664.7,1335.1L667.5,1335.3L670.3,1335.9L673.1,1336.2L676.1,1336.3L679.2,1336.9L682.5,1337.5L685.3,1338.0L688.3,1337.6L691.5,1336.8L694.7,1336.5L698.0,1336.7L701.3,1337.0L704.5,1336.9L707.7,1336.3L710.8,1335.7L713.7,1335.5L716.8,1334.9L719.8,1333.8L722.6,1332.6L725.4,1331.1L728.2,1329.4L730.9,1328.2L733.6,1327.6L736.3,1327.1L739.0,1326.7L742.0,1327.3L745.1,1327.8L748.0,1327.8L751.0,1328.5L753.9,1329.5L756.8,1330.0L759.7,1329.9L762.5,1329.1L764.7,1328.2L766.9,1326.7L768.9,1324.3L771.0,1322.1L773.1,1319.9L775.2,1317.4L777.3,1315.0L779.4,1312.6L781.6,1310.2L783.9,1307.8L785.9,1305.8L787.9,1303.5L789.9,1300.3L791.9,1296.9L794.0,1294.0L796.1,1291.3L798.2,1288.6L800.4,1286.7L802.6,1285.4L804.8,1283.8L807.0,1282.6L809.3,1281.9L811.5,1282.3L813.7,1284.0L816.0,1286.0L818.3,1287.4L820.7,1289.1L823.1,1291.5L825.5,1294.4L827.9,1297.6L830.2,1300.0L832.4,1301.9L834.6,1304.2L836.7,1306.3L838.6,1307.7L841.8,1309.5L844.7,1310.7L847.2,1311.4L849.7,1311.5L852.2,1311.8L855.0,1312.6L858.1,1313.2L860.4,1314.1L862.8,1315.6L865.2,1316.4L867.7,1317.5L870.3,1319.2L873.0,1321.0L875.8,1322.5L878.8,1324.1L882.0,1325.4L885.4,1325.9L888.0,1326.1L890.9,1327.0L893.9,1327.1L897.1,1325.9L900.4,1325.1L903.8,1325.1L907.1,1325.1L910.5,1324.9L913.8,1324.4L917.1,1324.2L920.2,1324.4L923.1,1324.4L925.9,1324.2L928.4,1324.5L932.2,1325.0L935.4,1325.2L938.3,1325.3L940.8,1325.4L943.3,1325.9L945.9,1327.1L948.6,1328.1L951.8,1327.9L954.3,1327.6L956.8,1327.9L959.3,1327.7L961.9,1327.6L964.6,1327.5L967.3,1327.1L970.2,1326.6L973.2,1325.8L976.3,1324.7L979.5,1324.1L983.0,1322.9L985.1,1321.3L987.4,1320.1L989.8,1319.1L992.2,1317.2L994.8,1315.1L997.4,1313.4L1000.1,1311.7L1002.8,1309.8L1005.5,1307.4L1008.2,1304.7L1010.9,1302.3L1013.6,1300.2L1016.2,1298.2L1018.8,1296.6L1021.2,1294.9L1023.6,1293.1L1025.8,1291.5L1027.9,1289.9L1029.8,1288.6L1033.5,1286.2L1036.7,1284.2L1039.5,1282.3L1042.1,1280.7L1044.4,1279.8L1046.6,1278.4L1048.8,1276.4L1051.0,1274.5L1053.3,1272.3L1055.1,1270.2L1056.8,1267.7L1058.5,1265.1L1060.2,1262.6L1061.9,1260.4L1063.5,1258.2L1065.2,1255.4L1066.7,1252.0L1068.3,1249.4L1069.8,1246.7L1071.3,1243.4L1072.8,1241.5L1074.9,1239.1L1077.0,1235.8L1078.9,1232.7L1080.8,1229.9L1082.7,1227.6L1084.6,1225.9L1086.5,1224.8L1088.4,1224.0L1090.7,1224.1L1093.0,1225.4L1095.3,1227.0L1097.6,1229.5L1099.8,1232.4L1102.0,1234.8L1104.0,1237.1L1105.8,1240.1L1107.3,1243.4L1108.7,1246.7L1110.1,1249.5L1111.6,1252.3L1113.5,1254.7L1115.7,1255.4L1117.7,1254.6L1119.8,1253.5L1122.0,1252.5L1124.3,1250.9L1126.8,1248.4L1129.5,1246.2L1132.4,1243.8L1135.6,1241.4L1139.0,1239.4L1141.1,1238.2L1143.5,1237.2L1146.0,1235.6L1148.6,1233.2L1151.4,1231.4L1154.2,1229.9L1157.1,1228.1L1160.0,1225.7L1162.9,1223.7L1165.7,1222.7L1168.5,1221.6L1171.1,1219.8L1173.6,1218.2L1176.0,1216.7L1178.1,1215.6L1180.0,1215.7L1184.0,1215.6L1186.9,1216.1L1189.0,1217.5L1190.9,1219.4L1193.0,1222.1L1195.6,1225.6L1196.8,1227.7L1198.0,1230.3L1199.3,1232.3L1200.7,1234.6L1202.0,1237.8L1203.4,1241.0L1204.8,1243.6L1206.2,1246.4L1207.6,1249.9L1209.1,1253.4L1210.5,1256.4L1211.9,1259.0L1213.2,1261.9L1214.6,1264.4L1215.9,1266.2L1217.1,1268.2L1219.2,1271.7L1221.2,1275.1L1223.2,1278.5L1225.1,1281.3L1227.0,1283.6L1228.8,1285.6L1230.7,1287.5L1232.7,1289.0L1234.7,1290.1L1237.3,1290.7L1239.8,1289.8L1242.4,1288.6L1245.1,1288.0L1247.9,1287.3L1250.9,1286.7L1254.2,1286.8L1256.5,1287.1L1258.9,1287.7L1261.4,1288.4L1264.1,1289.3L1266.7,1290.9L1269.5,1292.6L1272.3,1294.5L1275.1,1296.5L1277.9,1298.4L1280.7,1300.1L1283.5,1301.8L1285.5,1303.3L1287.6,1304.7L1289.8,1307.3L1291.9,1310.8L1294.1,1313.0L1296.3,1315.3L1298.5,1318.4L1300.7,1320.9L1302.8,1323.2L1305.0,1326.3L1307.0,1328.9L1309.1,1330.7L1311.0,1332.8L1312.9,1334.7L1314.7,1335.6L1318.3,1336.8L1321.5,1337.4L1324.4,1336.9L1327.3,1335.7L1330.1,1334.9L1333.0,1333.8L1336.1,1331.6L1338.2,1329.7L1340.3,1327.7L1342.4,1325.0L1344.6,1322.0L1346.8,1319.2L1348.9,1316.2L1351.1,1313.2L1353.3,1310.7L1355.4,1309.1L1357.5,1308.0L1359.6,1307.5L1361.4,1308.3L1363.2,1310.3L1365.0,1312.4L1366.7,1314.8L1368.4,1317.7L1370.1,1321.1L1371.8,1324.0L1373.5,1326.7L1375.3,1329.6L1377.1,1331.9L1379.0,1333.6L1381.0,1335.3L1383.8,1337.0L1386.7,1337.9L1389.7,1337.8L1392.8,1337.4L1395.9,1337.4L1399.1,1336.9L1402.2,1335.3L1405.3,1332.6L1408.4,1329.0L1409.6,1327.6L1410.9,1325.8L1412.2,1323.6L1413.4,1321.4L1414.7,1318.7L1416.0,1315.8L1417.3,1312.7L1418.6,1309.5L1419.9,1306.5L1421.1,1303.8L1422.4,1301.1L1423.7,1298.1L1425.0,1294.7L1426.2,1291.7L1427.5,1288.6L1428.7,1284.7L1429.9,1281.3L1431.1,1278.7L1432.3,1276.3L1433.4,1274.7L1434.6,1272.8L1435.7,1270.3L1438.1,1266.2L1440.4,1263.2L1442.6,1260.0L1444.7,1256.7L1446.8,1254.0L1448.8,1251.8L1450.9,1250.7L1452.9,1250.5L1455.0,1250.2L1457.1,1250.0L1458.8,1249.9L1460.5,1250.8L1462.1,1253.3L1463.8,1255.7L1465.4,1257.6L1467.0,1260.3L1468.7,1263.6L1470.4,1266.7L1472.3,1269.6L1474.2,1272.7L1476.3,1275.7L1478.6,1278.9L1480.2,1280.8L1482.0,1283.1L1483.9,1285.8L1485.9,1288.2L1487.9,1290.9L1490.0,1293.8L1492.2,1295.6L1494.3,1297.3L1496.5,1300.4L1498.7,1304.0L1500.8,1306.7L1502.9,1308.3L1505.0,1310.2L1506.9,1312.6L1508.8,1314.9L1510.6,1316.8L1512.2,1318.4L1513.7,1319.7L1517.9,1322.3L1520.9,1323.2L1523.4,1322.9L1526.0,1321.1L1529.4,1319.2L1531.5,1318.2L1533.8,1316.8L1536.3,1315.2L1538.8,1313.2L1541.4,1311.3L1544.1,1309.2L1546.8,1307.0L1549.5,1305.9L1552.1,1305.0L1554.7,1303.5L1557.5,1303.3L1560.4,1304.7L1563.2,1306.6L1566.1,1308.4L1568.9,1310.0L1571.8,1311.7L1574.6,1313.3L1577.4,1315.0L1580.1,1315.9L1583.0,1316.1L1585.8,1316.4L1588.6,1316.1L1591.3,1315.9L1594.0,1316.1L1596.9,1316.4L1600.0,1316.7L1603.4,1317.5L1605.7,1318.4L1608.1,1319.9L1610.6,1321.8L1613.3,1323.9L1616.0,1326.8L1618.7,1329.7L1621.5,1331.5L1624.2,1332.9L1626.9,1334.5L1629.5,1335.7L1632.0,1336.5L1634.4,1337.0L1636.6,1337.0L1638.6,1336.2L1640.5,1335.2L1642.3,1333.3L1644.0,1330.6L1645.6,1327.7L1647.2,1324.4L1648.7,1321.7L1650.2,1319.2L1651.7,1316.0L1653.2,1312.5L1654.8,1309.1L1656.4,1306.0L1658.1,1303.6L1660.0,1300.9L1661.9,1298.2L1663.9,1295.1L1665.9,1292.1L1667.9,1289.6L1669.9,1286.9L1671.9,1283.9L1673.9,1281.4L1675.9,1279.9L1677.8,1278.4L1679.7,1276.4L1681.5,1275.0L1684.5,1274.3L1687.2,1274.8L1689.9,1276.2L1692.6,1278.0L1695.3,1280.4L1698.0,1283.0L1701.0,1284.8L1703.1,1285.7L1705.2,1287.5L1707.4,1290.2L1709.5,1292.9L1711.7,1294.5L1714.0,1295.3L1716.4,1297.0L1718.9,1298.9L1721.6,1300.1L1724.4,1301.4L1726.9,1302.2L1729.6,1302.1L1732.4,1301.9L1735.3,1302.1L1738.2,1302.1L1741.3,1301.5L1744.3,1300.9L1747.4,1301.0L1750.5,1300.9L1753.6,1300.5L1756.6,1300.5L1759.6,1301.5L1762.3,1303.3L1765.1,1304.7L1767.9,1306.2L1770.8,1308.0L1773.6,1309.8L1776.5,1311.6L1779.3,1313.2L1782.1,1314.6L1784.8,1315.9L1787.4,1316.9L1789.9,1318.4L1792.4,1320.3L1794.7,1321.5L1798.2,1322.8L1801.4,1323.8L1804.4,1324.7L1807.2,1325.7L1810.0,1326.4L1812.7,1327.0L1815.3,1327.1L1818.1,1326.9L1821.2,1326.5L1824.1,1325.9L1826.9,1325.0L1829.8,1323.3L1832.8,1322.0L1836.0,1321.2L1839.6,1321.3L1841.9,1322.4L1844.4,1323.7L1846.9,1324.4L1849.6,1325.7L1852.4,1327.7L1855.2,1329.3L1858.0,1331.1L1860.8,1333.1L1863.5,1334.4L1866.0,1335.4L1868.5,1335.9L1870.8,1336.3L1873.9,1336.8L1876.7,1336.7L1879.3,1335.8L1881.8,1334.3L1884.2,1332.8L1886.7,1331.3L1889.4,1329.3L1892.3,1327.1L1894.3,1325.6L1896.4,1324.0L1898.5,1322.3L1900.7,1320.4L1902.9,1318.3L1905.1,1316.3L1907.4,1314.4L1909.7,1312.1L1912.1,1310.0L1914.5,1308.8L1917.0,1307.7L1919.6,1305.9L1922.3,1304.7L1925.2,1303.7L1928.2,1302.4L1931.3,1301.5L1934.5,1301.6L1937.6,1301.7L1940.8,1301.2L1943.9,1300.6L1946.8,1300.2L1949.7,1299.4L1952.3,1297.6L1954.7,1295.4L1957.1,1293.6L1959.3,1292.3L1961.4,1290.5L1963.3,1288.0L1965.1,1285.3L1966.7,1283.1L1968.3,1280.9L1969.9,1278.4L1971.3,1275.5L1972.8,1272.2L1974.2,1268.8L1975.1,1266.0L1976.0,1263.5L1976.8,1260.9L1977.6,1257.9L1978.4,1254.6L1979.1,1251.9L1979.8,1249.7L1980.4,1246.5L1981.1,1243.2L1981.7,1240.2L1982.4,1236.7L1983.0,1233.2L1983.7,1230.6L1984.4,1228.0L1985.1,1224.9L1985.9,1222.1L1986.8,1218.8L1987.8,1215.2L1988.7,1212.2L1989.7,1209.0L1990.7,1204.8L1991.7,1200.9L1992.8,1197.9L1993.8,1194.9L1994.8,1191.9L1995.8,1189.0L1996.8,1186.8L1997.7,1185.4L1998.7,1183.9L1999.6,1182.9L2000.7,1182.8L2001.8,1183.2L2002.8,1184.6L2003.8,1186.9L2004.7,1189.2L2005.7,1191.7L2006.7,1195.4L2007.7,1200.1L2008.8,1204.9L2010.0,1209.0L2011.3,1213.6L2011.8,1216.0L2012.3,1218.7L2012.8,1221.4L2013.4,1224.0L2013.9,1226.8L2014.5,1229.7L2015.0,1232.6L2015.6,1235.7L2016.1,1239.1L2016.7,1242.5L2017.3,1245.8L2017.9,1249.4L2018.5,1252.8L2019.1,1256.0L2019.7,1259.3L2020.3,1263.3L2020.9,1267.5L2021.5,1270.9L2022.2,1274.1L2022.8,1277.4L2023.5,1280.7L2024.1,1283.4L2024.8,1286.2L2025.5,1289.1L2026.1,1291.6L2026.8,1293.6L2027.5,1295.5L2028.2,1297.4L2028.9,1299.4L2031.5,1304.3L2034.2,1306.9L2036.9,1308.0L2039.8,1308.3L2042.7,1308.5L2045.8,1308.4L2049.0,1308.0L2052.3,1308.0L2054.8,1308.9L2057.5,1310.1L2060.2,1311.0L2063.1,1312.2L2065.9,1313.7L2068.8,1315.1L2071.8,1316.3L2074.6,1317.5L2077.5,1318.9L2080.3,1320.3L2083.0,1321.0L2085.9,1321.6L2088.7,1322.8L2091.4,1323.8L2094.1,1324.4L2096.8,1325.5L2099.4,1326.5L2102.1,1326.8L2104.9,1327.3L2107.8,1327.7L2110.7,1327.9L2113.4,1328.2L2116.2,1328.1L2119.1,1327.1L2121.9,1326.2L2124.8,1325.9L2127.7,1325.4L2130.7,1325.1L2133.7,1324.8L2136.8,1324.2L2139.9,1324.1L2143.0,1324.1L2145.7,1323.9L2148.5,1324.6L2151.3,1325.7L2154.2,1326.4L2157.1,1328.2L2160.0,1330.4L2162.9,1331.5L2165.8,1332.4L2168.7,1333.7L2171.6,1334.7L2174.4,1335.2L2177.2,1335.5L2179.9,1335.0L2182.6,1333.9L2185.2,1333.1L2187.5,1331.8L2189.8,1329.7L2192.0,1327.8L2194.3,1326.6L2196.7,1324.7L2199.2,1322.2L2202.0,1319.9L2205.0,1318.1L2208.4,1317.0L2212.2,1316.3L2214.5,1316.5L2216.9,1316.6L2219.5,1316.1L2222.3,1315.4L2225.1,1315.2L2228.1,1315.5L2231.1,1315.7L2234.2,1315.9L2237.4,1315.9L2240.6,1316.1L2243.8,1316.1L2247.1,1315.6L2250.3,1315.5L2253.5,1316.1L2256.7,1316.7L2259.9,1317.0L2262.9,1317.3L2265.9,1317.7L2268.8,1318.2L2271.6,1318.1L2274.3,1318.0L2276.8,1318.5L2280.4,1319.2L2284.0,1319.9L2287.5,1320.7L2291.0,1321.8L2294.4,1322.5L2297.7,1323.1L2300.9,1324.9L2303.9,1326.2L2306.9,1325.9L2309.6,1326.3L2312.1,1327.5L2314.5,1328.2L2316.6,1329.0L2318.4,1330.0L2320.0,1330.6" stroke="#23A55A"/>
<path d="M147.8,1424.4L149.3,1424.9L151.2,1425.0L154.4,1425.2L159.5,1426.7L161.5,1427.4L163.8,1428.2L166.4,1429.3L169.2,1430.1L172.2,1430.9L175.3,1432.1L178.5,1433.7L181.7,1434.6L184.9,1435.0L188.0,1435.8L190.9,1436.8L193.7,1437.9L196.2,1438.9L198.5,1439.2L202.0,1439.2L204.6,1438.7L206.6,1438.1L208.5,1437.4L210.8,1436.8L213.8,1437.1L218.1,1437.6L220.3,1437.3L222.7,1437.9L225.4,1438.5L228.2,1438.4L231.2,1439.1L234.3,1440.4L237.5,1441.4L240.8,1441.8L244.1,1441.8L247.5,1442.6L250.8,1443.5L254.1,1444.2L257.3,1445.5L260.4,1446.3L263.4,1446.2L266.2,1446.2L268.8,1446.4L272.3,1446.2L275.7,1446.4L279.0,1447.0L282.1,1447.1L285.2,1446.4L288.1,1445.6L291.0,1445.3L293.7,1445.2L296.4,1444.2L299.0,1443.1L301.5,1442.9L304.0,1443.0L307.5,1442.4L310.6,1441.2L313.6,1439.2L316.3,1437.7L319.0,1436.7L321.7,1435.5L324.5,1435.0L327.4,1434.9L330.2,1435.1L333.0,1435.9L336.0,1438.1L338.9,1441.2L341.9,1442.5L344.8,1442.7L347.6,1443.2L350.2,1443.7L352.7,1443.7L355.0,1443.0L357.1,1442.4L359.1,1441.3L360.9,1438.4L362.8,1435.2L364.6,1432.3L366.4,1429.7L368.3,1427.9L370.3,1425.5L372.0,1422.9L373.7,1420.1L375.3,1416.9L377.0,1413.9L378.7,1410.9L380.4,1408.1L382.2,1406.3L384.0,1404.6L385.9,1402.3L387.8,1399.9L389.8,1398.5L391.9,1399.2L394.1,1401.3L396.4,1403.7L398.8,1406.3L401.2,1409.2L403.6,1412.5L406.0,1416.1L408.4,1418.8L410.7,1419.5L413.0,1419.6L415.2,1420.2L416.8,1420.3L418.3,1419.0L419.8,1416.5L421.3,1413.2L422.8,1409.7L424.3,1406.3L425.8,1402.6L427.2,1399.3L428.6,1396.3L430.0,1393.1L431.4,1389.8L432.8,1386.8L434.1,1384.8L435.4,1383.1L436.6,1381.6L438.2,1381.3L439.8,1382.8L441.3,1385.5L442.7,1388.5L444.1,1390.7L445.4,1393.0L446.8,1396.6L448.1,1400.4L449.4,1403.8L450.8,1407.3L452.2,1410.6L453.5,1412.9L454.7,1415.2L455.8,1418.3L456.9,1421.7L458.0,1424.7L459.2,1427.6L460.5,1430.3L461.9,1432.8L463.6,1435.2L465.6,1437.6L467.9,1439.2L470.2,1439.3L472.8,1439.3L475.7,1439.6L478.8,1439.5L482.1,1439.3L485.5,1438.8L488.9,1437.9L492.3,1436.8L495.6,1436.2L498.8,1435.6L501.7,1434.8L504.5,1434.6L506.9,1434.4L510.6,1435.0L513.4,1436.9L515.7,1438.5L517.8,1439.3L520.1,1440.0L522.9,1440.2L526.4,1439.0L528.3,1437.9L530.3,1436.7L532.4,1435.0L534.7,1432.6L537.1,1429.9L539.5,1427.7L542.0,1425.6L544.6,1422.6L547.1,1419.2L549.7,1417.0L552.2,1415.1L554.6,1413.0L557.0,1411.7L559.3,1410.6L561.5,1409.3L563.5,1408.8L565.7,1409.5L567.7,1411.3L569.6,1413.6L571.4,1416.2L573.2,1418.8L574.9,1420.8L576.6,1423.3L578.2,1427.3L579.9,1431.3L581.6,1433.8L583.3,1436.3L585.1,1438.9L586.9,1440.9L588.9,1442.7L591.8,1444.2L595.0,1444.7L598.3,1444.7L601.7,1444.2L605.1,1444.2L608.4,1444.0L611.6,1443.2L614.7,1443.6L617.5,1443.6L620.0,1442.3L624.0,1441.0L627.0,1440.3L629.5,1439.7L632.2,1438.6L635.6,1438.0L638.1,1438.6L640.8,1439.7L643.6,1441.2L646.6,1442.6L649.6,1443.8L652.7,1445.4L655.8,1446.9L659.0,1448.3L661.9,1449.8L664.8,1450.5L667.8,1450.5L670.9,1450.9L674.0,1451.3L677.1,1451.6L680.2,1452.0L683.3,1452.0L686.4,1452.0L689.4,1452.1L692.5,1452.4L695.6,1452.4L698.6,1451.8L701.7,1450.4L704.8,1449.2L707.8,1448.8L710.8,1448.6L713.7,1448.1L716.6,1447.8L719.5,1447.4L722.3,1446.5L725.1,1444.9L727.9,1443.1L730.6,1442.2L733.4,1442.1L736.2,1441.3L739.0,1440.7L741.8,1441.2L744.7,1441.9L747.5,1442.5L750.4,1443.1L753.2,1443.9L756.1,1444.3L758.9,1445.1L761.7,1446.5L764.4,1446.0L767.1,1443.9L769.7,1442.2L772.3,1440.5L774.9,1438.5L777.5,1436.5L780.1,1434.6L782.6,1433.0L785.2,1431.3L787.8,1429.4L790.7,1427.9L793.6,1426.8L796.4,1425.2L799.3,1423.6L802.2,1421.7L805.2,1419.3L808.2,1418.3L811.3,1418.9L813.9,1419.5L816.5,1420.2L819.1,1421.9L821.8,1423.4L824.5,1424.2L827.2,1425.5L830.0,1427.5L832.8,1430.0L835.7,1432.0L838.6,1433.0L841.3,1433.7L844.1,1434.6L847.0,1435.7L850.0,1436.7L853.0,1437.2L855.9,1437.8L858.9,1438.5L861.7,1438.8L864.5,1439.3L867.2,1439.8L869.8,1440.2L872.9,1440.5L875.4,1441.3L877.6,1442.7L879.8,1443.5L882.2,1443.5L885.1,1443.1L888.6,1443.3L893.2,1444.2L895.4,1444.6L897.7,1444.4L900.3,1444.6L903.0,1444.7L905.8,1444.6L908.8,1445.0L911.9,1445.3L915.0,1445.0L918.3,1444.7L921.5,1444.6L924.8,1444.5L928.1,1444.7L931.3,1444.8L934.6,1444.5L937.7,1444.3L940.8,1444.7L943.7,1445.5L946.6,1445.5L949.3,1444.8L951.8,1444.8L955.4,1444.7L958.9,1444.5L962.1,1444.2L965.2,1443.6L968.2,1442.8L971.1,1442.4L973.9,1442.1L976.7,1441.6L979.4,1441.3L982.2,1441.0L985.0,1440.3L987.9,1439.8L990.8,1438.7L993.6,1437.2L996.5,1436.2L999.5,1435.6L1002.5,1435.3L1005.5,1435.0L1008.5,1434.2L1011.5,1432.5L1014.5,1430.5L1017.3,1429.6L1020.1,1428.9L1022.7,1427.6L1025.3,1426.7L1027.6,1426.1L1029.8,1425.0L1033.6,1423.9L1036.7,1424.0L1039.3,1424.1L1041.7,1424.0L1044.0,1423.2L1046.5,1421.8L1049.3,1419.7L1051.1,1417.6L1053.1,1415.6L1055.0,1413.7L1057.1,1411.5L1059.1,1409.3L1061.2,1406.8L1063.2,1403.8L1065.3,1401.4L1067.3,1399.2L1069.2,1397.2L1071.0,1395.7L1072.8,1394.1L1076.1,1391.2L1079.1,1388.6L1081.9,1386.5L1084.7,1385.3L1087.4,1385.5L1090.3,1386.2L1092.6,1387.2L1094.9,1389.4L1097.3,1391.5L1099.7,1392.5L1102.0,1394.5L1104.2,1397.4L1106.2,1399.4L1107.9,1400.9L1110.6,1403.6L1112.2,1404.2L1115.6,1403.1L1117.5,1402.5L1119.8,1401.2L1122.4,1399.0L1125.1,1396.9L1128.0,1395.3L1130.9,1394.1L1133.8,1392.0L1136.5,1389.0L1139.0,1387.0L1142.0,1385.8L1144.7,1384.7L1147.4,1384.1L1150.1,1383.1L1152.8,1382.0L1155.5,1381.2L1158.5,1380.5L1161.3,1379.6L1164.3,1378.0L1167.4,1375.6L1170.5,1373.1L1173.6,1372.3L1176.6,1372.0L1179.4,1371.2L1182.0,1370.7L1185.0,1370.9L1187.5,1371.1L1189.8,1371.1L1192.1,1372.2L1194.6,1374.4L1197.6,1376.9L1199.1,1378.9L1200.7,1381.5L1202.4,1383.8L1204.1,1386.4L1205.9,1389.1L1207.7,1391.8L1209.5,1395.2L1211.4,1398.8L1213.3,1401.6L1215.2,1404.0L1217.1,1406.8L1219.1,1408.6L1221.0,1408.9L1223.8,1410.0L1226.7,1411.4L1229.5,1412.6L1232.4,1413.7L1235.4,1414.5L1238.5,1414.6L1241.6,1415.0L1244.9,1416.4L1248.3,1418.0L1250.8,1418.0L1253.3,1418.2L1256.0,1419.0L1258.7,1419.9L1261.4,1420.9L1264.2,1421.9L1267.1,1422.7L1269.9,1424.1L1272.7,1426.2L1275.5,1427.6L1278.2,1428.3L1280.9,1429.0L1283.5,1430.1L1286.3,1432.1L1289.1,1434.6L1291.9,1436.0L1294.6,1437.6L1297.4,1439.0L1300.1,1439.9L1302.7,1441.5L1305.3,1443.2L1307.8,1444.6L1310.2,1445.9L1312.5,1447.4L1314.7,1448.4L1318.6,1449.4L1321.8,1450.1L1324.8,1450.9L1327.7,1451.0L1330.7,1449.9L1334.2,1448.4L1336.5,1447.2L1339.0,1445.7L1341.5,1444.0L1344.1,1442.4L1346.8,1441.4L1349.4,1440.0L1352.1,1438.2L1354.7,1436.7L1357.2,1435.9L1359.6,1435.5L1362.4,1435.6L1365.1,1436.9L1367.7,1438.9L1370.2,1441.0L1372.7,1443.5L1375.3,1445.5L1378.1,1447.4L1381.0,1448.9L1383.8,1448.7L1386.8,1448.4L1389.8,1448.7L1393.0,1449.4L1396.2,1449.4L1399.3,1448.1L1402.5,1446.6L1405.5,1445.8L1408.4,1444.9L1410.5,1443.7L1412.5,1442.1L1414.5,1439.5L1416.4,1436.6L1418.3,1434.0L1420.2,1431.0L1422.1,1428.7L1424.0,1426.7L1425.9,1423.5L1427.8,1420.4L1429.8,1418.8L1431.8,1417.7L1434.3,1415.6L1436.8,1413.3L1439.4,1410.8L1442.0,1408.7L1444.6,1407.6L1447.2,1406.8L1449.7,1405.5L1452.3,1404.5L1454.7,1403.6L1457.1,1402.7L1459.6,1403.3L1461.9,1404.6L1464.0,1405.8L1466.2,1408.0L1468.3,1410.9L1470.6,1413.8L1473.0,1415.6L1475.6,1417.0L1478.6,1419.2L1480.7,1421.2L1483.0,1422.8L1485.4,1424.1L1488.0,1425.6L1490.6,1427.4L1493.3,1429.1L1496.0,1430.9L1498.8,1433.1L1501.5,1435.2L1504.1,1437.4L1506.7,1439.5L1509.2,1440.9L1511.5,1441.4L1513.7,1442.3L1517.2,1444.1L1520.5,1444.7L1523.5,1444.5L1526.4,1443.8L1529.2,1443.0L1531.9,1442.5L1534.5,1442.7L1537.2,1442.9L1540.2,1442.0L1543.0,1440.8L1545.6,1439.3L1548.3,1438.2L1551.0,1437.9L1553.7,1437.3L1556.7,1436.4L1559.4,1436.0L1562.2,1436.0L1565.0,1436.5L1567.9,1437.5L1570.8,1438.1L1573.8,1438.2L1576.9,1438.2L1580.0,1438.6L1582.8,1439.0L1585.7,1438.4L1588.7,1437.9L1591.6,1438.1L1594.7,1438.4L1597.8,1438.7L1600.9,1438.7L1604.1,1439.2L1607.3,1439.7L1610.0,1440.1L1612.9,1441.8L1615.8,1444.2L1618.8,1446.0L1621.9,1446.5L1624.9,1447.2L1627.8,1449.3L1630.7,1451.2L1633.5,1451.8L1636.1,1452.4L1638.5,1452.6L1641.2,1452.2L1643.6,1451.0L1645.8,1448.9L1647.9,1446.3L1649.9,1443.8L1651.9,1441.2L1653.8,1438.9L1655.9,1436.8L1658.1,1434.7L1660.1,1432.4L1662.2,1430.0L1664.3,1428.0L1666.3,1425.3L1668.4,1421.8L1670.6,1418.8L1672.7,1416.3L1674.9,1414.0L1677.2,1413.2L1679.5,1413.2L1682.1,1413.1L1684.8,1414.0L1687.6,1415.0L1690.4,1415.8L1693.3,1417.7L1696.1,1420.2L1699.1,1422.3L1702.0,1424.2L1704.9,1425.7L1707.5,1426.5L1710.2,1427.5L1712.8,1428.5L1715.5,1429.7L1718.2,1430.8L1720.9,1431.6L1723.7,1432.9L1726.5,1434.0L1729.3,1434.6L1732.2,1435.5L1735.1,1435.8L1738.0,1435.5L1740.9,1435.2L1743.9,1434.7L1746.9,1434.1L1750.0,1433.1L1753.1,1432.3L1756.4,1432.1L1759.9,1431.6L1763.5,1431.8L1766.0,1432.3L1768.7,1432.9L1771.5,1433.8L1774.4,1434.3L1777.4,1434.5L1780.4,1436.3L1783.4,1438.4L1786.5,1439.4L1789.5,1440.3L1792.5,1441.3L1795.5,1441.9L1798.4,1442.8L1801.2,1443.8L1803.9,1444.6L1806.4,1445.4L1810.0,1445.5L1813.3,1444.8L1816.5,1443.7L1819.5,1443.5L1822.5,1444.3L1825.4,1443.9L1828.3,1442.6L1831.3,1442.5L1834.4,1442.2L1837.6,1441.7L1840.4,1442.7L1843.2,1443.7L1846.0,1444.3L1848.9,1445.3L1851.7,1446.5L1854.7,1447.5L1857.6,1448.8L1860.6,1449.4L1863.6,1449.6L1866.6,1450.5L1869.6,1450.3L1872.7,1449.5L1875.4,1450.0L1878.0,1450.4L1880.7,1449.0L1883.5,1446.8L1886.2,1445.5L1889.0,1444.8L1891.8,1443.6L1894.6,1441.9L1897.4,1440.8L1900.2,1439.6L1903.1,1437.9L1906.0,1436.8L1908.9,1435.9L1911.8,1434.9L1914.6,1433.8L1917.5,1433.1L1920.5,1433.2L1923.6,1432.2L1926.7,1430.8L1929.8,1429.9L1932.9,1429.6L1936.0,1429.7L1939.0,1429.5L1942.0,1429.4L1944.8,1429.0L1947.6,1428.1L1950.1,1427.5L1952.5,1427.0L1954.7,1426.1L1958.8,1425.0L1962.1,1424.3L1965.0,1423.4L1967.5,1422.6L1969.7,1421.1L1971.9,1418.7L1974.2,1417.0L1976.0,1415.9L1977.6,1413.6L1979.2,1411.0L1980.7,1408.2L1982.2,1404.7L1983.6,1401.7L1985.0,1399.5L1986.4,1397.1L1987.9,1393.6L1989.0,1390.4L1990.1,1387.9L1991.2,1385.0L1992.3,1381.4L1993.4,1377.9L1994.4,1374.6L1995.5,1371.8L1996.6,1368.6L1997.6,1365.2L1998.7,1362.9L1999.7,1361.5L2000.8,1360.4L2002.2,1360.8L2003.5,1362.3L2004.9,1364.2L2006.2,1367.7L2007.6,1371.6L2008.9,1375.1L2010.3,1379.0L2011.8,1382.5L2013.3,1386.5L2014.2,1389.3L2015.2,1391.0L2016.1,1393.4L2017.0,1396.9L2018.0,1400.6L2018.9,1404.0L2019.9,1407.2L2020.9,1409.9L2021.9,1412.6L2023.0,1416.5L2024.1,1419.9L2025.2,1422.1L2026.4,1425.1L2027.6,1427.8L2028.9,1429.3L2031.2,1431.3L2033.4,1432.4L2035.6,1432.8L2037.9,1432.6L2040.6,1432.8L2043.8,1433.4L2047.6,1433.3L2052.3,1433.3L2054.5,1433.3L2056.8,1434.1L2059.4,1435.0L2062.1,1435.1L2064.9,1435.5L2067.9,1436.1L2071.0,1436.3L2074.2,1436.9L2077.4,1437.7L2080.7,1438.2L2083.9,1438.9L2087.2,1439.4L2090.5,1439.7L2093.7,1440.7L2096.8,1442.5L2099.8,1443.5L2102.8,1443.3L2105.6,1443.2L2108.2,1443.0L2110.7,1443.0L2114.5,1443.6L2118.1,1443.7L2121.4,1443.1L2124.6,1442.5L2127.6,1442.3L2130.5,1442.3L2133.3,1442.6L2136.1,1441.4L2138.9,1439.9L2141.7,1440.1L2144.6,1440.6L2147.6,1440.4L2150.4,1440.6L2153.3,1441.4L2156.1,1442.1L2159.0,1442.8L2161.8,1443.7L2164.6,1444.8L2167.5,1445.7L2170.3,1446.3L2173.1,1447.1L2176.0,1448.1L2178.8,1448.5L2181.7,1448.3L2184.5,1447.6L2187.3,1447.0L2190.0,1446.8L2192.6,1446.5L2195.2,1445.9L2197.9,1444.9L2200.5,1444.4L2203.1,1444.1L2205.9,1443.0L2208.7,1442.2L2211.6,1441.5L2214.7,1440.0L2218.0,1439.5L2221.4,1440.0L2224.0,1440.5L2226.8,1440.6L2229.7,1440.2L2232.7,1440.1L2235.8,1440.6L2238.9,1440.5L2242.2,1439.9L2245.4,1440.6L2248.7,1441.4L2252.0,1440.9L2255.3,1440.6L2258.6,1441.2L2261.8,1441.4L2265.0,1441.1L2268.1,1441.6L2271.1,1442.2L2274.0,1441.9L2276.8,1442.1L2280.4,1443.0L2284.0,1442.9L2287.6,1442.6L2291.3,1443.2L2294.9,1443.4L2298.4,1443.4L2301.9,1443.7L2305.1,1443.5L2308.3,1444.4L2311.2,1445.2L2313.8,1445.4L2316.2,1445.6L2318.3,1445.3L2320.0,1445.4" stroke="#0A60DC"/>
<path d="M147.8,1519.2L149.6,1520.6L151.8,1520.7L154.4,1520.7L157.4,1521.6L160.6,1522.7L164.0,1523.2L167.5,1523.2L171.1,1524.4L174.8,1525.4L178.3,1525.0L181.8,1525.0L185.0,1525.6L188.0,1525.4L190.7,1525.8L194.3,1526.5L197.4,1526.0L200.1,1525.3L202.7,1524.9L205.2,1524.3L207.8,1523.4L210.7,1522.6L214.1,1522.4L218.1,1523.2L220.5,1524.2L223.1,1525.0L225.9,1525.3L228.8,1524.8L231.8,1524.2L234.9,1525.1L238.1,1526.5L241.3,1526.3L244.6,1526.3L247.9,1528.1L251.1,1529.3L254.3,1529.0L257.4,1528.4L260.5,1528.2L263.4,1528.8L266.2,1529.6L268.8,1530.1L272.3,1530.5L275.7,1531.0L279.0,1530.7L282.2,1530.1L285.3,1529.8L288.2,1530.2L291.1,1529.6L293.9,1528.1L296.5,1527.3L299.1,1526.9L301.6,1526.3L304.0,1526.0L307.7,1525.4L310.9,1524.1L313.8,1522.3L316.5,1520.7L319.3,1519.5L322.2,1519.3L325.4,1519.7L327.9,1519.9L330.6,1521.1L333.3,1523.2L336.2,1525.7L339.0,1527.8L341.9,1529.1L344.8,1530.7L347.5,1532.0L350.2,1532.3L352.7,1532.3L355.4,1531.8L357.9,1530.7L360.4,1528.9L362.9,1527.0L365.2,1524.4L367.5,1521.0L369.8,1518.4L372.0,1516.9L374.2,1515.0L376.5,1511.8L378.7,1508.9L380.8,1506.6L382.9,1503.9L384.9,1501.1L387.1,1498.6L389.3,1497.0L391.8,1497.1L393.9,1498.4L396.1,1500.1L398.4,1502.0L400.7,1503.7L403.1,1506.0L405.6,1509.1L408.0,1512.2L410.4,1514.5L412.8,1515.5L415.2,1515.4L417.0,1514.6L418.9,1512.9L420.8,1509.8L422.7,1506.5L424.6,1504.0L426.6,1500.9L428.5,1497.4L430.3,1494.6L432.1,1492.0L433.9,1488.9L435.5,1485.5L437.1,1483.1L438.6,1482.5L440.8,1482.7L442.6,1483.7L444.3,1486.6L445.9,1490.2L447.4,1493.1L448.9,1495.9L450.5,1499.7L452.2,1503.8L453.6,1506.2L454.8,1507.7L456.0,1509.9L457.2,1513.3L458.5,1517.1L459.8,1520.1L461.4,1522.8L463.2,1526.0L465.4,1527.7L467.9,1528.3L470.2,1528.9L472.7,1529.1L475.5,1528.8L478.6,1528.8L481.7,1528.6L485.0,1528.1L488.3,1527.9L491.7,1527.3L495.0,1526.2L498.2,1525.1L501.3,1524.7L504.2,1524.3L506.9,1523.3L510.4,1523.1L513.7,1524.1L516.8,1525.2L519.7,1525.6L522.6,1525.5L525.4,1525.5L528.2,1525.1L531.1,1524.6L534.2,1524.2L536.8,1523.2L539.5,1521.2L542.2,1519.5L544.9,1518.1L547.6,1516.2L550.3,1514.1L553.0,1512.3L555.7,1511.3L558.4,1510.1L561.0,1509.0L563.5,1509.2L565.9,1510.0L568.3,1511.2L570.6,1512.7L572.8,1514.4L575.0,1516.7L577.2,1519.5L579.4,1521.6L581.7,1523.5L584.0,1526.9L586.4,1529.4L588.9,1530.3L591.8,1531.2L595.0,1531.7L598.3,1532.3L601.7,1532.8L605.1,1532.4L608.4,1531.6L611.6,1530.8L614.7,1529.9L617.5,1529.9L620.0,1529.9L623.7,1528.6L626.2,1527.4L628.4,1527.2L631.2,1526.3L635.6,1525.7L637.8,1526.2L640.3,1527.0L643.0,1527.4L645.9,1528.2L648.9,1529.3L652.0,1530.6L655.3,1532.1L658.5,1532.3L661.8,1531.9L665.1,1532.9L668.4,1533.8L671.5,1533.9L674.6,1533.8L677.6,1533.5L680.8,1533.4L683.9,1533.4L687.1,1533.3L690.3,1533.3L693.5,1533.7L696.7,1533.5L699.8,1532.1L702.8,1531.2L705.7,1531.3L708.5,1531.1L711.2,1530.8L713.7,1530.6L717.3,1530.0L720.6,1528.9L723.5,1527.1L726.1,1526.1L728.7,1526.2L731.3,1525.7L734.1,1524.9L737.1,1524.8L739.9,1525.2L742.5,1526.0L745.2,1526.7L747.9,1527.4L750.7,1528.7L753.7,1529.9L756.9,1530.4L760.5,1530.7L764.4,1529.4L766.7,1527.9L769.0,1527.2L771.6,1527.0L774.2,1526.3L776.9,1524.8L779.7,1523.0L782.5,1521.4L785.4,1520.0L788.3,1518.2L791.3,1516.5L794.3,1515.2L797.2,1513.0L800.1,1511.5L803.0,1510.6L805.8,1509.3L808.6,1509.3L811.3,1509.6L814.3,1508.8L817.3,1508.4L820.2,1509.1L823.1,1510.1L826.0,1510.9L828.9,1511.7L831.8,1513.0L834.7,1514.4L837.5,1515.6L840.3,1517.0L843.1,1518.7L845.9,1520.2L848.7,1521.2L851.5,1522.3L854.2,1523.3L857.2,1523.8L859.9,1524.4L862.4,1524.5L864.8,1524.6L867.2,1526.1L869.5,1527.2L872.0,1527.9L874.7,1528.5L877.6,1528.8L880.8,1529.3L884.4,1529.7L888.5,1530.0L893.2,1530.3L895.4,1530.5L897.8,1530.7L900.3,1530.6L903.0,1530.3L905.7,1530.0L908.6,1530.1L911.6,1531.2L914.6,1531.5L917.8,1531.4L921.0,1532.3L924.2,1532.6L927.5,1532.0L930.9,1531.7L934.2,1531.0L937.6,1531.0L941.0,1531.9L944.4,1532.5L947.7,1532.2L951.1,1531.3L954.4,1531.2L957.6,1532.2L960.8,1532.4L963.9,1531.5L967.0,1530.8L969.9,1530.4L972.8,1530.4L975.5,1531.0L978.2,1530.9L980.6,1530.5L983.0,1530.4L987.1,1529.6L991.1,1528.7L994.8,1527.6L998.3,1526.9L1001.6,1526.5L1004.7,1525.0L1007.7,1523.0L1010.5,1522.1L1013.3,1522.0L1015.8,1520.9L1018.3,1519.4L1020.7,1518.4L1023.1,1517.5L1025.4,1516.5L1027.6,1515.0L1029.8,1514.0L1033.8,1513.2L1037.1,1512.7L1040.0,1512.3L1042.5,1512.2L1044.9,1512.1L1047.4,1511.6L1050.2,1510.4L1053.3,1508.7L1055.7,1507.8L1058.1,1506.4L1060.7,1504.2L1063.4,1502.3L1066.1,1500.4L1068.9,1498.1L1071.7,1496.6L1074.4,1495.8L1077.1,1494.3L1079.7,1493.0L1082.1,1492.1L1084.5,1491.1L1087.5,1491.5L1090.5,1493.3L1093.5,1494.9L1096.3,1496.4L1099.0,1498.5L1101.6,1501.0L1103.9,1503.2L1106.0,1504.2L1107.9,1504.3L1110.5,1505.8L1111.3,1506.7L1115.6,1505.4L1117.5,1503.9L1119.6,1502.6L1122.1,1502.0L1124.9,1501.5L1127.8,1500.7L1130.8,1499.4L1134.0,1498.3L1137.2,1498.1L1140.4,1497.5L1143.5,1496.4L1146.6,1494.9L1149.5,1493.1L1152.2,1492.5L1154.6,1491.6L1158.1,1489.8L1161.3,1489.0L1164.4,1488.9L1167.2,1488.9L1170.0,1488.5L1172.6,1488.2L1175.1,1488.5L1177.6,1488.3L1180.0,1487.9L1183.3,1488.0L1186.2,1488.7L1188.9,1489.3L1191.6,1489.2L1194.4,1490.0L1197.6,1492.4L1199.7,1494.7L1201.7,1496.6L1203.8,1498.2L1206.0,1500.2L1208.2,1502.3L1210.5,1504.6L1212.9,1507.1L1215.5,1509.1L1218.2,1510.7L1221.0,1512.0L1223.6,1512.8L1226.3,1513.1L1229.2,1513.1L1232.3,1513.5L1235.4,1514.4L1238.5,1514.5L1241.7,1513.8L1244.8,1514.1L1247.9,1514.9L1250.8,1515.2L1253.5,1515.3L1256.1,1515.7L1259.4,1515.8L1262.2,1515.5L1264.7,1515.1L1267.1,1515.1L1269.5,1515.8L1272.3,1516.8L1275.5,1517.6L1279.5,1518.9L1281.8,1519.7L1284.3,1519.9L1287.0,1520.9L1289.9,1522.5L1292.9,1523.7L1296.0,1524.6L1299.1,1525.7L1302.3,1526.8L1305.6,1528.2L1308.8,1529.9L1312.0,1531.3L1315.1,1532.4L1318.1,1532.8L1321.0,1533.1L1323.8,1533.5L1326.4,1534.5L1329.7,1535.5L1332.9,1535.1L1335.9,1534.0L1338.9,1532.6L1341.8,1530.9L1344.6,1529.0L1347.3,1527.1L1349.9,1526.2L1352.5,1525.1L1354.9,1523.4L1357.3,1522.3L1359.6,1522.3L1362.8,1523.0L1365.5,1524.3L1368.1,1526.0L1370.4,1527.9L1372.8,1529.4L1375.2,1530.8L1377.9,1532.6L1381.0,1533.1L1383.5,1532.5L1386.2,1532.3L1389.0,1532.6L1392.0,1532.9L1395.0,1532.7L1398.0,1531.8L1401.1,1530.9L1404.1,1530.1L1407.0,1530.1L1409.7,1530.8L1412.3,1530.4L1414.9,1528.3L1417.4,1525.5L1419.8,1522.9L1422.0,1520.2L1424.2,1517.6L1426.4,1515.9L1428.6,1514.1L1430.9,1511.5L1433.2,1509.1L1435.7,1508.3L1438.3,1508.6L1441.0,1507.3L1443.7,1504.9L1446.5,1503.3L1449.3,1501.9L1452.2,1500.3L1455.0,1499.0L1457.7,1498.7L1460.4,1499.2L1463.0,1499.3L1465.7,1499.8L1468.4,1500.8L1470.9,1502.0L1473.5,1503.5L1475.9,1506.1L1478.5,1509.1L1481.0,1511.2L1483.7,1512.7L1486.4,1514.7L1489.0,1516.7L1491.8,1517.6L1494.7,1518.9L1497.6,1520.6L1500.5,1522.0L1503.4,1523.3L1506.2,1524.0L1508.9,1524.7L1511.4,1525.6L1513.7,1526.1L1517.4,1526.6L1520.3,1527.6L1522.8,1528.2L1525.7,1527.3L1529.4,1526.4L1531.9,1526.4L1534.8,1525.4L1537.8,1523.5L1541.0,1523.0L1544.2,1523.4L1547.5,1522.9L1550.7,1522.5L1553.8,1521.8L1556.7,1520.9L1559.7,1520.6L1562.6,1520.6L1565.4,1520.8L1568.1,1521.0L1570.9,1521.3L1573.7,1521.9L1576.7,1521.9L1580.0,1522.0L1582.8,1522.7L1585.8,1523.1L1588.9,1523.1L1592.1,1523.1L1595.4,1523.0L1598.6,1522.9L1601.9,1523.1L1605.1,1523.8L1608.2,1524.9L1611.2,1525.7L1614.1,1525.9L1617.0,1526.8L1619.9,1528.4L1622.8,1530.0L1625.6,1532.0L1628.3,1534.0L1631.0,1535.2L1633.6,1535.9L1636.1,1536.5L1638.5,1536.1L1641.3,1535.2L1643.9,1534.0L1646.3,1532.1L1648.7,1530.2L1651.0,1528.8L1653.3,1527.1L1655.6,1524.8L1658.1,1522.5L1660.5,1520.1L1662.7,1518.1L1664.8,1516.1L1667.0,1513.8L1669.4,1512.1L1672.2,1510.3L1675.5,1508.8L1679.5,1508.1L1681.7,1508.6L1684.1,1509.3L1686.6,1509.4L1689.4,1510.1L1692.3,1510.7L1695.2,1511.7L1698.3,1513.0L1701.5,1514.0L1704.6,1515.6L1707.8,1517.3L1711.0,1517.8L1714.1,1518.6L1717.2,1520.4L1720.2,1521.1L1723.0,1521.4L1725.7,1522.0L1728.3,1522.6L1731.7,1523.2L1734.9,1523.0L1737.9,1522.8L1740.8,1522.9L1743.5,1522.6L1746.3,1522.2L1749.0,1521.6L1751.7,1521.0L1754.5,1520.8L1757.3,1520.2L1760.3,1519.8L1763.5,1520.2L1766.2,1520.5L1768.9,1520.7L1771.8,1521.7L1774.7,1522.7L1777.7,1523.0L1780.7,1523.3L1783.7,1523.6L1786.7,1523.9L1789.7,1524.9L1792.7,1526.3L1795.6,1527.3L1798.4,1527.5L1801.2,1527.8L1803.9,1528.3L1806.4,1528.2L1810.0,1527.6L1813.5,1527.2L1816.7,1527.8L1819.9,1529.0L1823.0,1529.3L1826.0,1528.4L1828.9,1528.0L1831.8,1528.3L1834.7,1528.4L1837.6,1528.8L1840.8,1530.0L1843.9,1530.4L1847.0,1530.1L1850.0,1530.8L1853.0,1531.9L1855.9,1532.1L1858.9,1532.7L1861.9,1533.9L1864.9,1534.6L1867.9,1534.7L1871.0,1534.5L1874.0,1534.4L1877.1,1534.5L1880.1,1533.7L1883.2,1532.4L1886.2,1531.8L1889.3,1531.4L1892.3,1531.2L1895.0,1530.6L1897.6,1529.6L1900.3,1528.6L1902.9,1527.8L1905.5,1526.7L1908.1,1524.6L1910.8,1523.1L1913.6,1522.0L1916.6,1520.7L1919.6,1520.3L1922.3,1519.8L1925.1,1518.7L1928.0,1518.5L1931.0,1518.1L1934.1,1516.9L1937.2,1516.0L1940.2,1515.7L1943.3,1515.6L1946.3,1515.5L1949.2,1514.7L1952.0,1513.9L1954.7,1513.6L1957.8,1512.1L1960.8,1510.5L1963.7,1509.4L1966.6,1507.7L1969.3,1506.3L1972.0,1505.7L1974.6,1504.5L1977.2,1502.6L1979.6,1500.7L1982.0,1498.7L1984.1,1496.4L1986.1,1493.8L1988.1,1491.3L1990.0,1488.8L1991.8,1485.9L1993.6,1483.3L1995.3,1480.6L1996.9,1477.9L1998.5,1476.2L2000.0,1475.0L2001.5,1474.4L2003.9,1474.5L2005.9,1475.8L2007.6,1478.3L2009.4,1481.7L2011.2,1484.8L2013.3,1487.9L2014.4,1489.6L2015.6,1491.7L2016.7,1494.4L2017.8,1497.7L2019.0,1501.0L2020.2,1504.1L2021.4,1507.5L2022.8,1510.6L2024.1,1512.9L2025.6,1515.4L2027.2,1517.8L2028.9,1519.0L2031.2,1519.9L2033.5,1520.9L2035.9,1521.1L2038.3,1520.8L2041.0,1520.4L2044.0,1519.5L2047.4,1519.2L2051.1,1519.3L2055.4,1519.2L2057.7,1519.9L2060.1,1520.4L2062.7,1520.1L2065.5,1520.6L2068.4,1522.1L2071.4,1523.8L2074.4,1524.2L2077.6,1523.5L2080.8,1523.3L2084.0,1524.0L2087.2,1524.6L2090.4,1525.2L2093.6,1525.8L2096.7,1526.6L2099.8,1527.2L2102.7,1527.6L2105.5,1528.4L2108.2,1529.0L2110.7,1529.5L2114.4,1529.9L2117.9,1529.5L2121.2,1529.1L2124.4,1529.4L2127.4,1529.3L2130.3,1528.5L2133.2,1527.6L2136.0,1526.4L2138.8,1526.3L2141.7,1526.8L2144.6,1526.8L2147.6,1526.7L2150.4,1526.8L2153.2,1527.5L2156.0,1528.4L2158.8,1529.0L2161.6,1529.7L2164.4,1530.0L2167.2,1530.3L2170.0,1531.6L2172.8,1532.6L2175.7,1533.1L2178.6,1533.9L2181.5,1534.3L2184.5,1534.2L2187.3,1534.1L2190.1,1533.9L2192.9,1533.2L2195.8,1531.5L2198.6,1530.1L2201.5,1529.6L2204.4,1528.5L2207.4,1527.2L2210.4,1526.7L2213.4,1526.5L2216.5,1525.9L2219.6,1525.9L2222.8,1525.7L2226.1,1524.7L2228.9,1524.6L2231.7,1525.0L2234.6,1524.9L2237.6,1524.8L2240.6,1524.4L2243.6,1524.3L2246.7,1525.0L2249.8,1525.0L2252.9,1524.4L2256.0,1524.6L2259.1,1524.8L2262.2,1524.8L2265.2,1525.3L2268.2,1526.3L2271.1,1527.1L2274.0,1527.1L2276.8,1527.7L2280.0,1527.9L2283.3,1527.5L2286.6,1527.6L2290.0,1528.3L2293.4,1529.3L2296.7,1529.4L2300.0,1529.0L2303.1,1530.1L2306.2,1531.6L2309.1,1532.2L2311.8,1532.4L2314.2,1532.6L2316.5,1532.8L2318.4,1532.8L2320.0,1532.6" stroke="#EE2A2E"/>
<path d="M147.8,1579.3L149.5,1580.2L151.7,1580.4L154.2,1580.3L157.1,1580.2L160.3,1580.8L163.7,1582.4L167.3,1583.2L171.1,1582.8L175.1,1582.5L177.6,1582.8L180.2,1583.2L183.0,1582.2L185.9,1580.6L188.9,1580.0L192.0,1579.8L195.1,1579.0L198.3,1578.2L201.5,1578.0L204.7,1577.5L207.8,1576.7L211.0,1575.7L214.1,1574.7L217.1,1574.7L220.0,1574.7L223.1,1574.3L226.2,1575.0L229.3,1576.2L232.4,1576.1L235.5,1575.9L238.6,1577.5L241.6,1578.9L244.6,1578.2L247.5,1577.9L250.4,1579.5L253.2,1580.7L255.9,1580.6L258.5,1581.0L261.0,1581.1L264.6,1581.0L267.8,1581.4L270.8,1581.1L273.6,1580.4L276.4,1579.3L279.1,1578.6L282.0,1578.7L285.0,1577.8L288.3,1577.3L291.0,1577.5L293.7,1577.6L296.6,1577.5L299.5,1577.6L302.5,1578.5L305.5,1579.2L308.6,1579.1L311.6,1579.4L314.7,1580.1L317.7,1580.7L320.6,1581.1L323.5,1581.1L326.6,1581.9L329.6,1583.0L332.6,1583.8L335.6,1584.4L338.6,1585.0L341.5,1585.4L344.5,1585.5L347.5,1586.9L350.5,1588.1L353.5,1587.7L356.6,1587.6L359.3,1587.4L362.0,1585.6L364.9,1583.9L367.7,1582.1L370.6,1579.5L373.5,1576.9L376.4,1575.4L379.2,1574.2L381.9,1572.1L384.6,1569.9L387.1,1569.1L389.5,1569.1L391.8,1568.7L395.1,1567.9L398.1,1568.0L400.7,1569.9L403.2,1572.0L405.6,1573.1L408.0,1574.2L410.5,1574.6L413.2,1573.7L415.8,1572.3L418.4,1571.2L421.1,1570.5L423.9,1569.5L426.6,1567.2L429.3,1564.0L431.9,1562.1L434.3,1561.8L436.6,1561.8L439.2,1562.9L441.5,1564.8L443.6,1566.8L445.6,1568.6L447.7,1570.3L449.8,1571.9L452.2,1573.3L454.6,1575.8L456.9,1577.9L459.3,1579.1L461.8,1581.1L464.7,1582.9L467.9,1583.9L471.8,1584.4L474.1,1584.7L476.7,1585.1L479.3,1585.1L482.1,1584.7L485.0,1583.9L488.1,1583.0L491.2,1582.9L494.3,1583.4L497.6,1583.0L500.9,1581.7L504.2,1580.7L507.5,1580.7L510.8,1580.6L513.5,1579.8L516.4,1580.2L519.3,1581.0L522.2,1580.3L525.2,1579.3L528.3,1579.7L531.4,1579.8L534.4,1578.7L537.5,1578.0L540.6,1578.1L543.6,1578.2L546.5,1577.4L549.4,1576.7L552.3,1576.6L555.0,1576.3L557.6,1576.1L561.0,1576.1L564.2,1576.7L567.4,1578.1L570.5,1579.2L573.5,1579.8L576.4,1581.1L579.3,1581.8L582.1,1581.3L584.8,1582.1L587.5,1583.4L590.2,1583.7L592.8,1584.4L596.2,1585.0L599.4,1584.8L602.5,1584.3L605.4,1584.4L608.3,1584.9L611.2,1584.6L614.1,1583.5L617.0,1583.2L620.0,1583.1L623.0,1582.8L625.8,1583.0L628.7,1581.5L631.5,1580.0L634.4,1580.0L637.3,1579.6L640.4,1579.2L643.7,1578.9L647.3,1579.4L649.9,1580.8L652.5,1581.1L655.3,1581.3L658.1,1581.6L661.0,1581.8L663.9,1583.1L666.9,1584.2L670.0,1584.2L673.1,1585.1L676.3,1585.8L679.6,1585.8L683.0,1586.2L686.4,1586.0L689.1,1585.9L692.0,1586.5L694.9,1586.0L697.9,1585.2L701.1,1584.9L704.2,1584.2L707.4,1583.3L710.6,1583.0L713.8,1582.6L717.0,1581.6L720.2,1580.1L723.3,1578.6L726.3,1577.7L729.2,1577.2L732.0,1577.1L734.6,1577.2L737.1,1577.0L740.7,1576.7L744.1,1577.2L747.3,1578.0L750.4,1578.2L753.3,1579.1L756.0,1580.8L758.6,1581.6L761.2,1582.2L763.6,1583.3L766.0,1583.6L768.3,1582.7L771.7,1582.5L774.6,1582.9L777.3,1582.4L779.8,1581.5L782.3,1580.6L784.9,1578.9L787.8,1577.4L790.1,1576.7L792.4,1575.3L794.6,1573.3L796.9,1571.4L799.3,1569.8L801.9,1568.0L804.7,1566.2L807.8,1565.5L811.3,1565.5L813.6,1566.0L816.1,1566.8L818.8,1566.8L821.7,1566.9L824.6,1568.1L827.6,1569.0L830.7,1570.4L833.8,1572.0L837.0,1573.2L840.0,1574.2L843.1,1575.3L846.1,1576.5L848.9,1577.3L851.6,1577.3L854.2,1577.7L857.3,1579.0L860.1,1580.0L862.6,1580.9L864.9,1581.8L867.2,1582.7L869.5,1584.1L872.0,1585.1L874.7,1584.9L877.7,1584.9L881.3,1585.6L885.4,1585.1L887.7,1583.7L890.2,1583.7L892.9,1583.8L895.8,1583.7L898.8,1584.2L901.9,1584.4L905.1,1584.0L908.4,1582.6L911.8,1581.8L915.2,1582.3L918.6,1582.2L922.0,1581.9L925.4,1581.8L928.8,1581.3L932.1,1580.9L935.3,1580.2L938.4,1579.8L941.4,1580.2L944.3,1580.1L947.0,1580.3L949.5,1580.3L951.8,1579.6L956.0,1580.1L959.7,1580.1L963.0,1580.2L965.9,1581.4L968.6,1582.3L971.1,1582.8L973.4,1583.4L975.7,1584.1L978.0,1585.2L980.4,1585.7L983.0,1585.4L986.0,1585.0L988.7,1584.0L991.2,1583.1L993.7,1582.2L996.2,1580.7L999.0,1579.6L1002.2,1579.1L1005.9,1578.8L1010.3,1578.1L1012.6,1577.5L1015.1,1576.8L1017.8,1577.4L1020.7,1577.7L1023.7,1576.7L1026.9,1575.8L1030.1,1575.2L1033.5,1575.0L1036.8,1574.7L1040.2,1574.7L1043.6,1575.2L1046.9,1575.5L1050.2,1575.2L1053.4,1574.2L1056.4,1574.3L1059.3,1575.1L1062.0,1574.6L1064.6,1573.3L1066.9,1573.0L1068.9,1573.1L1074.1,1571.7L1077.5,1570.3L1079.7,1569.5L1081.5,1567.9L1083.5,1566.7L1086.4,1567.0L1088.7,1568.1L1090.8,1569.7L1092.9,1570.9L1095.1,1572.0L1097.5,1573.5L1100.3,1574.7L1103.5,1575.3L1107.3,1575.8L1111.8,1576.2L1114.0,1577.1L1116.5,1577.5L1119.1,1577.1L1121.9,1577.4L1124.9,1577.5L1128.1,1576.5L1131.3,1576.1L1134.6,1575.5L1138.0,1574.4L1141.4,1574.0L1144.8,1573.9L1148.2,1573.8L1151.6,1573.4L1154.9,1573.0L1158.1,1573.1L1161.2,1572.6L1164.2,1571.6L1167.0,1571.3L1169.6,1571.0L1172.0,1571.0L1174.2,1571.1L1179.0,1570.5L1182.7,1571.0L1185.7,1572.1L1188.1,1573.5L1190.3,1574.8L1192.4,1575.2L1194.8,1574.4L1197.6,1573.6L1200.4,1573.9L1203.3,1575.2L1206.3,1576.9L1209.3,1578.2L1212.3,1579.5L1215.4,1580.3L1218.5,1579.5L1221.7,1578.8L1224.9,1579.9L1227.6,1580.9L1230.4,1581.0L1233.3,1580.7L1236.3,1579.6L1239.3,1578.9L1242.2,1579.0L1245.2,1577.9L1248.0,1576.4L1250.8,1575.8L1253.5,1575.4L1256.1,1574.9L1259.3,1574.8L1262.2,1574.9L1264.9,1574.9L1267.5,1574.3L1270.2,1573.8L1273.0,1574.5L1276.1,1576.0L1279.5,1577.7L1282.0,1579.8L1284.6,1580.5L1287.4,1580.1L1290.2,1581.3L1293.1,1582.1L1296.1,1582.6L1299.2,1584.3L1302.2,1586.4L1305.4,1587.2L1308.5,1587.5L1311.6,1588.8L1314.7,1589.8L1317.6,1588.9L1320.6,1588.3L1323.7,1587.9L1326.9,1586.5L1330.0,1585.3L1333.2,1584.0L1336.4,1583.0L1339.5,1582.5L1342.6,1581.4L1345.6,1579.8L1348.4,1579.5L1351.1,1579.9L1353.7,1579.7L1357.2,1579.0L1360.5,1579.2L1363.6,1580.8L1366.6,1581.5L1369.4,1581.8L1372.0,1582.3L1374.5,1582.5L1376.9,1582.9L1379.1,1582.8L1382.5,1582.0L1385.3,1581.2L1387.7,1579.9L1390.0,1578.2L1392.7,1577.2L1395.0,1578.0L1397.2,1579.3L1399.5,1580.3L1401.9,1581.5L1404.9,1582.0L1408.4,1581.7L1410.7,1581.5L1413.2,1580.6L1416.0,1579.7L1418.9,1579.2L1422.0,1577.9L1425.1,1576.2L1428.2,1575.1L1431.2,1573.4L1434.2,1570.9L1437.0,1569.7L1439.6,1569.4L1442.9,1568.0L1445.9,1566.7L1448.8,1566.3L1451.5,1565.9L1454.3,1565.8L1457.1,1565.8L1459.9,1565.4L1463.0,1565.9L1465.8,1565.7L1468.7,1565.0L1471.7,1566.4L1474.7,1567.0L1477.7,1566.4L1480.8,1567.2L1483.9,1569.0L1487.1,1570.2L1490.3,1571.2L1493.0,1571.9L1495.7,1572.2L1498.5,1573.6L1501.4,1575.5L1504.2,1576.9L1507.1,1578.6L1510.0,1580.1L1512.9,1580.2L1515.8,1579.8L1518.6,1579.9L1521.5,1580.1L1524.4,1581.2L1527.2,1581.4L1530.1,1580.4L1533.0,1580.1L1536.0,1579.4L1538.8,1578.2L1541.7,1578.4L1544.6,1578.7L1547.4,1578.2L1550.1,1578.0L1552.8,1577.7L1556.0,1577.1L1559.2,1577.1L1562.3,1577.4L1565.4,1577.0L1568.4,1576.6L1571.4,1576.8L1574.3,1577.5L1577.2,1577.9L1580.0,1577.6L1583.0,1576.9L1585.9,1576.3L1588.6,1575.9L1591.3,1575.6L1594.1,1576.4L1597.0,1577.7L1600.0,1577.9L1603.4,1578.1L1605.8,1579.4L1608.2,1581.1L1610.7,1582.1L1613.3,1583.3L1615.9,1585.4L1618.7,1587.7L1621.4,1588.8L1624.3,1588.8L1627.2,1588.6L1630.3,1589.4L1633.4,1590.5L1636.6,1589.6L1639.0,1588.0L1641.5,1586.7L1644.0,1585.6L1646.7,1584.2L1649.5,1583.0L1652.3,1581.7L1655.1,1579.9L1658.0,1578.2L1660.8,1576.6L1663.7,1575.2L1666.5,1573.5L1669.2,1571.1L1671.9,1568.7L1674.5,1567.6L1677.0,1567.5L1679.3,1566.8L1681.5,1566.1L1684.9,1566.0L1688.1,1564.9L1691.0,1564.7L1693.7,1567.0L1696.2,1569.6L1698.7,1571.1L1701.2,1571.8L1703.6,1572.6L1706.1,1573.6L1708.8,1574.7L1711.8,1576.1L1714.8,1577.1L1717.8,1577.4L1720.7,1577.7L1723.7,1577.5L1726.7,1577.1L1729.8,1578.3L1732.9,1579.2L1736.1,1579.3L1739.0,1580.2L1741.9,1580.1L1744.7,1579.5L1747.6,1579.4L1750.5,1578.7L1753.6,1577.7L1756.7,1576.9L1760.1,1576.9L1763.6,1577.5L1767.4,1577.5L1769.9,1576.9L1772.6,1576.8L1775.3,1577.7L1778.2,1578.4L1781.1,1578.0L1784.2,1577.6L1787.2,1578.6L1790.3,1579.1L1793.4,1579.0L1796.5,1579.4L1799.6,1579.5L1802.7,1580.4L1805.7,1581.2L1808.6,1580.4L1811.5,1580.2L1814.2,1580.8L1817.5,1580.7L1820.7,1580.9L1823.9,1582.6L1827.0,1583.8L1830.1,1583.6L1833.2,1583.8L1836.2,1584.2L1839.1,1584.8L1842.0,1586.0L1844.9,1586.5L1847.7,1585.9L1850.5,1585.6L1853.2,1586.1L1856.6,1586.8L1860.0,1587.0L1863.2,1587.0L1866.3,1586.8L1869.3,1586.1L1872.4,1585.7L1875.4,1585.8L1878.4,1585.5L1881.4,1584.8L1884.5,1584.1L1887.3,1583.1L1890.2,1581.5L1893.0,1580.4L1895.9,1580.0L1898.7,1579.8L1901.5,1579.1L1904.4,1577.6L1907.2,1576.2L1910.0,1575.2L1912.9,1574.8L1915.7,1574.7L1918.9,1573.6L1922.1,1571.9L1925.3,1571.1L1928.6,1570.8L1931.8,1570.6L1935.0,1570.3L1938.1,1569.3L1941.2,1569.0L1944.1,1569.3L1946.9,1569.3L1950.1,1569.5L1953.1,1570.2L1955.9,1570.7L1958.6,1571.2L1961.3,1571.9L1964.1,1572.4L1967.1,1572.2L1970.3,1571.3L1972.9,1571.4L1975.5,1572.0L1978.3,1570.9L1981.2,1569.3L1984.2,1569.2L1987.1,1569.5L1990.1,1568.8L1993.1,1567.6L1996.0,1566.6L1998.8,1565.0L2001.5,1563.8L2004.4,1565.0L2007.2,1567.3L2010.0,1569.6L2012.8,1571.8L2015.5,1573.7L2018.2,1575.0L2020.9,1575.8L2023.5,1576.8L2026.2,1577.8L2028.9,1579.0L2031.7,1580.5L2034.2,1581.1L2036.6,1579.9L2038.9,1578.3L2041.4,1577.1L2044.1,1575.8L2047.3,1574.8L2051.0,1574.8L2055.4,1575.5L2057.7,1575.2L2060.2,1574.9L2062.8,1575.4L2065.7,1575.5L2068.7,1574.9L2071.8,1575.1L2075.0,1576.0L2078.3,1576.0L2081.6,1576.5L2085.0,1577.2L2088.4,1577.5L2091.7,1578.4L2095.0,1578.6L2098.3,1577.8L2101.5,1578.0L2104.6,1579.1L2107.5,1579.5L2110.3,1579.0L2112.9,1579.0L2115.3,1580.1L2119.3,1580.8L2122.8,1580.3L2126.0,1579.4L2128.9,1578.3L2131.6,1578.1L2134.2,1578.9L2136.7,1579.1L2139.2,1578.3L2141.8,1577.6L2144.6,1578.8L2147.6,1580.3L2150.3,1580.1L2153.0,1579.6L2155.8,1579.8L2158.6,1580.3L2161.5,1581.3L2164.3,1583.1L2167.2,1585.1L2170.1,1585.6L2173.0,1584.7L2175.9,1584.9L2178.8,1586.0L2181.6,1586.7L2184.5,1587.5L2187.3,1587.8L2190.0,1587.0L2192.6,1586.0L2195.2,1584.7L2197.9,1583.6L2200.5,1582.5L2203.1,1581.1L2205.9,1580.6L2208.7,1580.7L2211.6,1579.4L2214.7,1577.9L2218.0,1577.3L2221.4,1577.2L2224.0,1577.7L2226.8,1577.8L2229.7,1577.3L2232.7,1577.8L2235.8,1578.5L2238.9,1578.2L2242.2,1577.5L2245.4,1578.2L2248.7,1579.0L2252.0,1579.0L2255.3,1578.9L2258.6,1579.0L2261.8,1579.3L2265.0,1579.6L2268.1,1580.2L2271.1,1580.3L2274.0,1579.2L2276.8,1578.9L2280.4,1579.7L2284.0,1580.3L2287.6,1581.3L2291.3,1582.3L2294.9,1582.5L2298.4,1582.3L2301.9,1582.7L2305.1,1582.9L2308.3,1583.4L2311.2,1584.1L2313.8,1584.4L2316.2,1584.3L2318.3,1584.2L2320.0,1584.3" stroke="#454545"/>
</g>
<g stroke="#000" stroke-width="6.4" stroke-dasharray="30 31.25">
<line x1="392.7" y1="832.5" x2="392.7" y2="1597.5"/>
<line x1="437.4" y1="788.6" x2="437.4" y2="1614.85"/>
<line x1="1089.0" y1="802.5" x2="1089.0" y2="1628.75"/>
<line x1="2003.3" y1="745.0" x2="2003.3" y2="1629.3"/>
</g>
<rect x="145.2" y="33.4" width="2174.4" height="1595.8999999999999" fill="none" stroke="#000" stroke-width="7.2"/>
<g stroke="#000" stroke-width="7.2">
<line x1="145.2" y1="1629.3" x2="145.2" y2="1660.5"/>
<line x1="455.8" y1="1629.3" x2="455.8" y2="1660.5"/>
<line x1="766.5" y1="1629.3" x2="766.5" y2="1660.5"/>
<line x1="1077.1" y1="1629.3" x2="1077.1" y2="1660.5"/>
<line x1="1387.7" y1="1629.3" x2="1387.7" y2="1660.5"/>
<line x1="1698.3" y1="1629.3" x2="1698.3" y2="1660.5"/>
<line x1="2009.0" y1="1629.3" x2="2009.0" y2="1660.5"/>
<line x1="2319.6" y1="1629.3" x2="2319.6" y2="1660.5"/>
</g>
<rect x="1079.0" y="78.2" width="736.5" height="542.0999999999999" fill="none" stroke="#262626" stroke-width="4"/>
<g stroke="#262626" stroke-width="4">
<line x1="1079.0" y1="620.3" x2="1068.5" y2="620.3"/>
<line x1="1079.0" y1="552.5" x2="1068.5" y2="552.5"/>
<line x1="1079.0" y1="484.8" x2="1068.5" y2="484.8"/>
<line x1="1079.0" y1="417.0" x2="1068.5" y2="417.0"/>
<line x1="1079.0" y1="349.2" x2="1068.5" y2="349.2"/>
<line x1="1079.0" y1="281.5" x2="1068.5" y2="281.5"/>
<line x1="1079.0" y1="213.7" x2="1068.5" y2="213.7"/>
<line x1="1079.0" y1="146.0" x2="1068.5" y2="146.0"/>
<line x1="1079.0" y1="78.2" x2="1068.5" y2="78.2"/>
<line x1="1079.0" y1="620.3" x2="1079.0" y2="630.8"/>
<line x1="1115.8" y1="620.3" x2="1115.8" y2="625.8"/>
<line x1="1152.7" y1="620.3" x2="1152.7" y2="630.8"/>
<line x1="1189.5" y1="620.3" x2="1189.5" y2="625.8"/>
<line x1="1226.3" y1="620.3" x2="1226.3" y2="630.8"/>
<line x1="1263.1" y1="620.3" x2="1263.1" y2="625.8"/>
<line x1="1300.0" y1="620.3" x2="1300.0" y2="630.8"/>
<line x1="1336.8" y1="620.3" x2="1336.8" y2="625.8"/>
<line x1="1373.6" y1="620.3" x2="1373.6" y2="630.8"/>
<line x1="1410.4" y1="620.3" x2="1410.4" y2="625.8"/>
<line x1="1447.2" y1="620.3" x2="1447.2" y2="630.8"/>
<line x1="1484.1" y1="620.3" x2="1484.1" y2="625.8"/>
<line x1="1520.9" y1="620.3" x2="1520.9" y2="630.8"/>
<line x1="1557.7" y1="620.3" x2="1557.7" y2="625.8"/>
<line x1="1594.5" y1="620.3" x2="1594.5" y2="630.8"/>
<line x1="1631.4" y1="620.3" x2="1631.4" y2="625.8"/>
<line x1="1668.2" y1="620.3" x2="1668.2" y2="630.8"/>
<line x1="1705.0" y1="620.3" x2="1705.0" y2="625.8"/>
<line x1="1741.8" y1="620.3" x2="1741.8" y2="630.8"/>
<line x1="1778.7" y1="620.3" x2="1778.7" y2="625.8"/>
<line x1="1815.5" y1="620.3" x2="1815.5" y2="630.8"/>
</g>
<line x1="1090.0" y1="573.8" x2="1741.8" y2="140.0" stroke="#FF3C3C" stroke-width="2.6"/>
<circle cx="1090.0" cy="606.7" r="5.6" fill="#000"/>
<circle cx="1152.7" cy="498.3" r="5.6" fill="#000"/>
<circle cx="1300.0" cy="439.4" r="5.6" fill="#000"/>
<circle cx="1447.2" cy="308.6" r="5.6" fill="#000"/>
<circle cx="1594.5" cy="264.5" r="5.6" fill="#000"/>
<circle cx="1741.8" cy="133.8" r="5.6" fill="#000"/>
<line x1="1972" y1="644.5" x2="1843" y2="498" stroke="#000" stroke-width="5"/>
<polygon points="1836.3,490.5 1853.5,497.5 1837.5,511" fill="#000"/>
<line x1="345.7" y1="254.5" x2="345.7" y2="222" stroke="#000" stroke-width="6.5"/>
<polygon points="345,175.4 358,227 332.2,227" fill="#000"/>
<text x="241.16" y="144.69" font-size="67" font-weight="bold" fill="#000">45mg/L</text>
<text x="219.68" y="335.20" font-size="67.5" font-weight="bold" fill="#000">0.75mg/L</text>
<text x="84.52" y="1743.38" font-size="82" font-weight="normal" fill="#000">400</text>
<text x="394.33" y="1743.38" font-size="82" font-weight="normal" fill="#000">600</text>
<text x="704.96" y="1743.38" font-size="82" font-weight="normal" fill="#000">800</text>
<text x="995.04" y="1743.79" font-size="82" font-weight="normal" fill="#000">1000</text>
<text x="1305.66" y="1743.79" font-size="82" font-weight="normal" fill="#000">1200</text>
<text x="1616.29" y="1743.79" font-size="82" font-weight="normal" fill="#000">1400</text>
<text x="1926.92" y="1743.79" font-size="82" font-weight="normal" fill="#000">1600</text>
<text x="2237.55" y="1743.79" font-size="82" font-weight="normal" fill="#000">1800</text>
<text x="311.12" y="789.33" font-size="65.5" font-weight="normal" fill="#000">560</text>
<text x="403.87" y="736.08" font-size="65.5" font-weight="normal" fill="#000">588</text>
<text x="1020.56" y="762.86" font-size="65.5" font-weight="normal" fill="#000">1005</text>
<text x="1931.41" y="700.49" font-size="65.5" font-weight="normal" fill="#000">1593</text>
<text transform="translate(72.09,1054.02) rotate(-90)" font-size="76" font-weight="bold" fill="#000">Intensity (a.u.)</text>
<text x="1042.53" y="630.17" font-size="34.5" font-weight="normal" fill="#262626">0</text>
<text x="1008.03" y="562.58" font-size="34.5" font-weight="normal" fill="#262626">100</text>
<text x="1008.03" y="494.64" font-size="34.5" font-weight="normal" fill="#262626">200</text>
<text x="1008.03" y="426.88" font-size="34.5" font-weight="normal" fill="#262626">300</text>
<text x="1008.03" y="359.12" font-size="34.5" font-weight="normal" fill="#262626">400</text>
<text x="1008.03" y="291.36" font-size="34.5" font-weight="normal" fill="#262626">500</text>
<text x="1008.03" y="223.59" font-size="34.5" font-weight="normal" fill="#262626">600</text>
<text x="1008.03" y="155.83" font-size="34.5" font-weight="normal" fill="#262626">700</text>
<text x="1008.03" y="88.07" font-size="34.5" font-weight="normal" fill="#262626">800</text>
<text x="1069.88" y="666.70" font-size="36.5" font-weight="normal" fill="#262626">0</text>
<text x="1143.16" y="666.88" font-size="36.5" font-weight="normal" fill="#262626">5</text>
<text x="1207.14" y="666.88" font-size="36.5" font-weight="normal" fill="#262626">10</text>
<text x="1280.79" y="667.06" font-size="36.5" font-weight="normal" fill="#262626">15</text>
<text x="1355.35" y="666.70" font-size="36.5" font-weight="normal" fill="#262626">20</text>
<text x="1429.00" y="666.88" font-size="36.5" font-weight="normal" fill="#262626">25</text>
<text x="1502.47" y="666.70" font-size="36.5" font-weight="normal" fill="#262626">30</text>
<text x="1576.12" y="666.88" font-size="36.5" font-weight="normal" fill="#262626">35</text>
<text x="1650.32" y="666.70" font-size="36.5" font-weight="normal" fill="#262626">40</text>
<text x="1723.96" y="666.88" font-size="36.5" font-weight="normal" fill="#262626">45</text>
<text x="1796.88" y="666.70" font-size="36.5" font-weight="normal" fill="#262626">50</text>
<text x="1294.66" y="705.23" font-size="37" font-weight="normal" fill="#262626">concentration(mg/L)</text>
<text transform="translate(990.23,513.35) rotate(-90)" font-size="37" font-weight="normal" fill="#262626">Raman intensity (a.u.)</text>
<text x="1118.77" y="138.14" font-size="46.6" font-weight="bold" fill="#000">y=14.4659x+57.8181</text>
<text x="1116.73" y="196.95" font-size="46.6" font-weight="bold" fill="#000">R</text>
<text x="1151.91" y="192.93" font-size="38" font-weight="bold" fill="#000">²</text>
<text x="1164.51" y="196.03" font-size="46.6" font-weight="bold" fill="#000">=0.9752</text>
<text x="946.50" y="1843.60" font-size="75" font-weight="bold">Raman shift (cm</text>
<text x="1484.45" y="1823.24" font-size="47" font-weight="normal">−</text>
<text x="1511.52" y="1824.70" font-size="46" font-weight="bold">1</text>
<text x="1539.55" y="1843.60" font-size="75" font-weight="bold">)</text>
</svg>
</body></html>
